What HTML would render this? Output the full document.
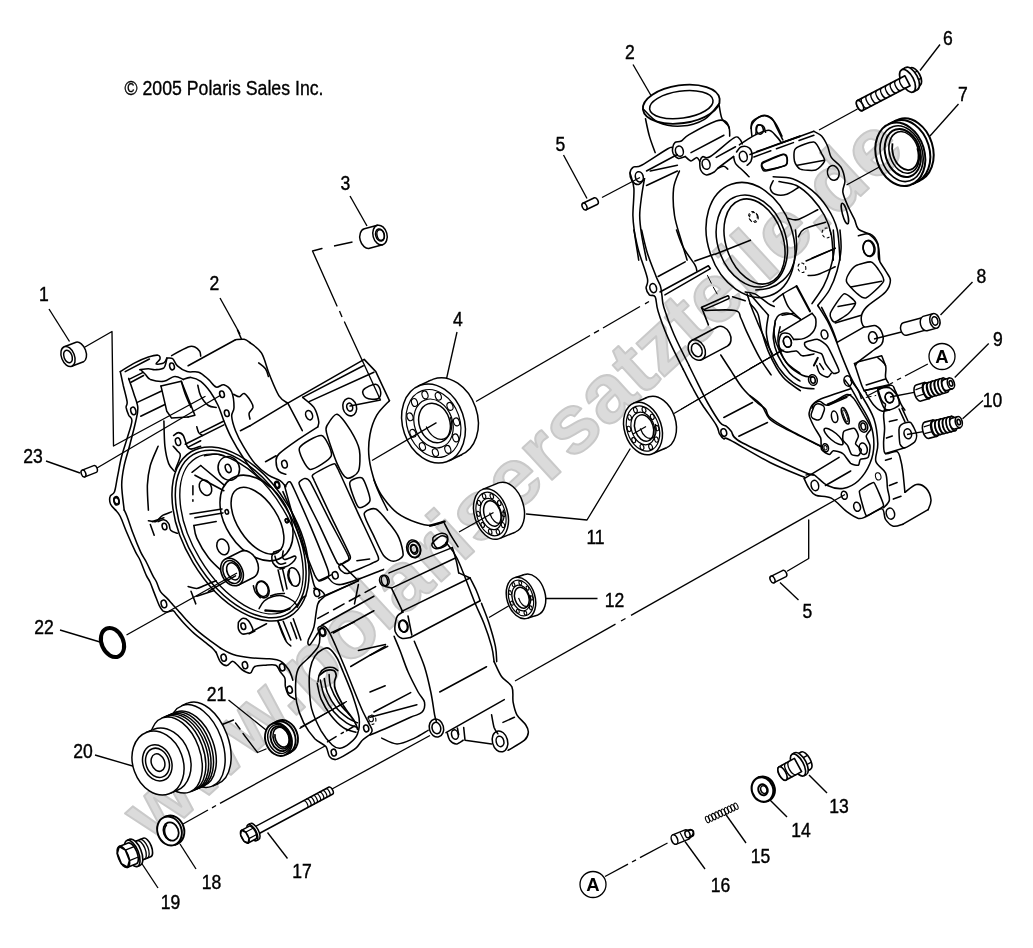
<!DOCTYPE html>
<html><head><meta charset="utf-8"><title>Crankcase</title>
<style>
html,body{margin:0;padding:0;background:#fff;}
svg{display:block;}
text{font-family:"Liberation Sans",sans-serif;fill:#000;}
</style></head><body>
<svg width="1033" height="948" viewBox="0 0 1033 948">
<rect width="1033" height="948" fill="#fff"/>

<path d="M120.3 371.6 C120.8 373.9 122.1 380.2 123.2 385.2 C124.4 390.2 126.6 397.9 127.1 401.6 C127.6 405.3 125.9 405.2 126.1 407.4 C126.4 409.7 127.7 412.9 128.7 415.2 C129.6 417.4 132.2 417.1 131.9 421 C131.7 424.9 128.9 432.3 127.1 438.4 C125.3 444.6 122.9 451.3 121.3 457.8 C119.7 464.2 118.6 471.5 117.4 477.1 C116.3 482.8 115.7 488.4 114.5 491.7 C113.3 494.9 110.7 494.4 110.1 496.5 C109.4 498.6 109.7 502 110.6 504.2 C111.6 506.5 114.7 509.1 115.5 510.1" fill="none" stroke="#000" stroke-width="1.55" stroke-linejoin="round" stroke-linecap="round" />
<path d="M115.5 510 C116.3 511.1 118.4 512.6 120.3 516.5 C122.2 520.4 124.6 527.4 127.1 533.3 C129.6 539.2 133.3 547.4 135.5 551.9 C137.7 556.4 138.2 556.1 140 560 C141.8 563.9 144.6 571.7 146.3 575.4 C148 579.1 148.6 578.9 150 582 C151.4 585.1 153 590 154.6 593.9 C156.2 597.8 157.9 602.8 159.3 605.6 C160.7 608.4 161.5 609.8 162.8 610.8 C164.2 611.8 165.7 611.9 167.4 611.9 C169.1 611.9 171.6 610.3 173.2 610.8 C174.8 611.3 174.9 612.8 176.7 614.8 C178.4 616.8 180.8 619.9 183.7 623 C186.6 626.1 190.4 630.1 194.1 633.4 C197.8 636.7 202.6 640.2 205.7 642.7 C208.8 645.2 210.9 646.9 212.7 648.5 C214.4 650.1 215.6 651.8 216.2 652.4" fill="none" stroke="#000" stroke-width="1.55" stroke-linejoin="round" stroke-linecap="round" />
<path d="M128.7 378.4 C129.5 381 132.4 389.1 133.9 393.9 C135.4 398.7 137.4 402.9 137.8 407.4 C138.1 412 137.1 414.9 135.8 421 C134.5 427.1 131.9 436.8 130 444.2 C128.1 451.7 125.6 458.8 124.2 465.5 C122.8 472.3 121.7 477.5 121.7 484.9 C121.7 492.3 123.8 505.9 124.2 510.1" fill="none" stroke="#000" stroke-width="1.55" stroke-linejoin="round" stroke-linecap="round" />
<path d="M124.2 510 C124.7 511.1 125.6 512.6 127.1 516.5 C128.6 520.4 130.8 527.4 133 533.3 C135.2 539.2 138.4 547.1 140.6 551.9 C142.8 556.7 144.3 558.1 146.3 562 C148.3 565.9 151 572.1 152.7 575.4 C154.4 578.7 155.2 579.3 156.5 582 C157.8 584.7 158.7 588.8 160.5 591.6 C162.3 594.4 165.4 596.5 167.4 598.6 C169.4 600.7 170.8 602.5 172.6 604.4 C174.3 606.3 175.7 607.7 177.9 610.2 C180.1 612.7 182.9 616.2 186 619.5 C189.1 622.8 192.8 626.6 196.5 629.9 C200.2 633.2 204.1 636.2 208.1 639.2 C212.1 642.2 218.4 646.7 220.5 648.2" fill="none" stroke="#000" stroke-width="1.55" stroke-linejoin="round" stroke-linecap="round" />
<ellipse cx="133.3" cy="410.9" rx="2.5" ry="3.9" transform="rotate(-15 133.3 410.9)" fill="none" stroke="#000" stroke-width="1.55" />
<ellipse cx="116.5" cy="501.3" rx="2.5" ry="3.7" transform="rotate(-15 116.5 501.3)" fill="none" stroke="#000" stroke-width="1.55" />
<ellipse cx="116.5" cy="500.3" rx="2.5" ry="3.7" transform="rotate(-15 116.5 500.3)" fill="none" stroke="#000" stroke-width="1.55" />
<ellipse cx="163.9" cy="603.9" rx="2.7" ry="3.9" transform="rotate(-15 163.9 603.9)" fill="none" stroke="#000" stroke-width="1.55" />
<path d="M120.3 371.6 C122.7 370.2 130.2 365.3 134.8 362.9 C139.5 360.5 144.5 358.4 148.4 357.1 C152.3 355.8 156.1 354.8 158.1 355.2 C160 355.5 160.3 357.6 160 359 C159.7 360.5 155.5 363.2 156.1 363.9 C156.8 364.5 162.1 363.9 163.9 362.9 C165.7 361.9 166.3 358.9 166.8 358.1" fill="none" stroke="#000" stroke-width="1.55" stroke-linejoin="round" stroke-linecap="round" />
<path d="M125.2 371.6 L149.4 359" fill="none" stroke="#000" stroke-width="1.55" stroke-linejoin="round" stroke-linecap="round" />
<path d="M129 379.4 L142.6 372.6" fill="none" stroke="#000" stroke-width="1.55" stroke-linejoin="round" stroke-linecap="round" />
<path d="M131 382.3 L143.6 375.5" fill="none" stroke="#000" stroke-width="1.55" stroke-linejoin="round" stroke-linecap="round" />
<path d="M140.7 369.7 C141.5 370.5 143.9 372.9 145.5 374.5 C147.1 376.1 147.3 378.2 150.3 379.4 C153.4 380.5 159.9 381.8 163.9 381.3 C167.9 380.8 171.3 376.8 174.5 376.5 C177.8 376.1 181.8 378.9 183.3 379.4" fill="none" stroke="#000" stroke-width="1.55" stroke-linejoin="round" stroke-linecap="round" />
<path d="M139.7 369.7 C141.1 369.5 145.8 368.7 148.4 368.7 C151 368.7 152.6 369.9 155.2 369.7 C157.8 369.5 162 369.5 163.9 367.8 C165.8 366 166.3 360.5 166.8 359" fill="none" stroke="#000" stroke-width="1.55" stroke-linejoin="round" stroke-linecap="round" />
<path d="M166.8 358.1 C167.8 358.2 170.8 357.4 172.6 358.7 C174.4 359.9 175 363.7 177.4 365.8 C179.9 368 183.6 370.6 187.1 371.6 C190.7 372.7 195.2 370.9 198.7 372.2 C202.3 373.5 205.5 376.9 208.4 379.4 C211.3 381.9 213.6 386.2 216.2 387.1 C218.7 388 221.3 384 223.9 384.8 C226.5 385.6 230 388.2 231.7 392 C233.3 395.7 234 403.4 234 407.4 C234 411.5 231.4 412.3 231.7 416.2 C231.9 420 233.6 425.7 235.5 430.7 C237.5 435.7 240 440.7 243.3 446.2 C246.5 451.7 250.7 458.8 254.9 463.6 C259.1 468.4 264.2 472.4 268.4 475.2 C272.6 478 277.2 478.7 280.1 480.6 C283 482.6 284.9 485.8 285.9 486.8" fill="none" stroke="#000" stroke-width="1.55" stroke-linejoin="round" stroke-linecap="round" />
<path d="M183.3 379.4 C184.5 379 188.1 377.1 191 377.4 C193.9 377.8 197.5 378.9 200.7 381.3 C203.9 383.7 207.5 387.9 210.4 392 C213.3 396 215.8 400.7 218.1 405.5 C220.4 410.3 221.7 415.5 223.9 421 C226.2 426.5 228.4 432.3 231.7 438.4 C234.9 444.6 239.4 452 243.3 457.8 C247.1 463.6 250.4 468.4 254.9 473.3 C259.4 478.2 267.8 484.9 270.4 487.2" fill="none" stroke="#000" stroke-width="1.55" stroke-linejoin="round" stroke-linecap="round" />
<ellipse cx="172" cy="366.4" rx="2.3" ry="3.5" transform="rotate(-15 172 366.4)" fill="none" stroke="#000" stroke-width="1.55" />
<ellipse cx="222" cy="394.3" rx="2.3" ry="3.3" transform="rotate(-15 222 394.3)" fill="none" stroke="#000" stroke-width="1.55" />
<ellipse cx="226.8" cy="413.3" rx="2.3" ry="3.3" transform="rotate(-15 226.8 413.3)" fill="none" stroke="#000" stroke-width="1.55" />
<ellipse cx="277.2" cy="484.9" rx="2.5" ry="3.7" transform="rotate(-15 277.2 484.9)" fill="none" stroke="#000" stroke-width="1.55" />
<path d="M171.6 355.6 C174.4 354.1 184.2 348.5 188.1 347 C192 345.6 192.9 346.3 194.9 347 C196.8 347.7 198.7 349.8 199.7 351.3 C200.7 352.8 200.5 355.3 200.7 356.1" fill="none" stroke="#000" stroke-width="1.55" stroke-linejoin="round" stroke-linecap="round" />
<path d="M188.1 365.8 L235.5 339.7" fill="none" stroke="#000" stroke-width="1.55" stroke-linejoin="round" stroke-linecap="round" />
<path d="M235.5 339.7 C237 339.6 241.8 338.8 244.2 339.3 C246.7 339.8 249.1 342 250 342.6" fill="none" stroke="#000" stroke-width="1.55" stroke-linejoin="round" stroke-linecap="round" />
<path d="M240.4 430.7 L250 425.8" fill="none" stroke="#000" stroke-width="1.55" stroke-linejoin="round" stroke-linecap="round" />
<path d="M237.5 330 L241.3 338.7" fill="none" stroke="#000" stroke-width="1.55" stroke-linejoin="round" stroke-linecap="round" />
<path d="M161 386.1 L181.3 381.3 L194.9 415.2 L188.1 417.1" fill="none" stroke="#000" stroke-width="1.55" stroke-linejoin="round" stroke-linecap="round" />
<path d="M161 386.1 L166.8 411.3 L171.6 418.1 L188.1 417.1" fill="none" stroke="#000" stroke-width="1.55" stroke-linejoin="round" stroke-linecap="round" />
<path d="M136.8 402.6 L161.6 391" fill="none" stroke="#000" stroke-width="1.55" stroke-linejoin="round" stroke-linecap="round" />
<path d="M140.7 416.2 L164.9 404.5" fill="none" stroke="#000" stroke-width="1.55" stroke-linejoin="round" stroke-linecap="round" />
<path d="M163.9 421 C164.1 425.2 164.1 439.1 164.9 446.2 C165.7 453.3 167.1 459.4 168.7 463.6 C170.3 467.8 173.6 470 174.5 471.3" fill="none" stroke="#000" stroke-width="1.55" stroke-linejoin="round" stroke-linecap="round" />
<path d="M158.1 446.2 C156.8 449.4 152.1 459.1 150.3 465.5 C148.6 472 147.8 477.5 147.4 484.9 C147.1 492.3 148.2 505.9 148.4 510.1" fill="none" stroke="#000" stroke-width="1.55" stroke-linejoin="round" stroke-linecap="round" />
<path d="M197.8 385.2 C198.3 387 198.9 392.4 200.7 395.8 C202.5 399.2 205.8 403.6 208.4 405.5 C211 407.4 214.9 407.1 216.2 407.4" fill="none" stroke="#000" stroke-width="1.55" stroke-linejoin="round" stroke-linecap="round" />
<path d="M181.3 381.3 C182 383.4 183.6 389.5 185.2 393.9 C186.8 398.2 190 405.2 191 407.4" fill="none" stroke="#000" stroke-width="1.55" stroke-linejoin="round" stroke-linecap="round" />
<ellipse cx="178" cy="441.7" rx="2.5" ry="3.9" transform="rotate(-15 178 441.7)" fill="none" stroke="#000" stroke-width="1.55" />
<path d="M173.6 435.5 C174.4 435 176.8 432.6 178.4 432.6 C180 432.6 181.8 433.3 183.3 435.5 C184.7 437.8 185.8 443.9 187.1 446.2 C188.4 448.4 188.7 449.1 191 449.1 C193.3 449.1 199.1 446.7 200.7 446.2" fill="none" stroke="#000" stroke-width="1.55" stroke-linejoin="round" stroke-linecap="round" />
<path d="M173.2 446.2 C173.9 447 176.3 449.4 177.4 451 C178.6 452.6 180.7 452.8 180.3 455.8 C180 458.9 176.3 467.1 175.5 469.4" fill="none" stroke="#000" stroke-width="1.55" stroke-linejoin="round" stroke-linecap="round" />
<path d="M185.2 444.2 L223.9 424.9" fill="none" stroke="#000" stroke-width="1.55" stroke-linejoin="round" stroke-linecap="round" />
<path d="M188.1 447.1 L200.7 440.7" fill="none" stroke="#000" stroke-width="1.55" stroke-linejoin="round" stroke-linecap="round" />
<path d="M200.7 432.6 L223.9 421" fill="none" stroke="#000" stroke-width="1.55" stroke-linejoin="round" stroke-linecap="round" />
<path d="M196.8 426.8 C197.1 427.8 197.8 431.2 198.7 432.6 C199.7 434.1 202 435 202.6 435.5" fill="none" stroke="#000" stroke-width="1.55" stroke-linejoin="round" stroke-linecap="round" />
<path d="M233.6 394.3 C234.6 394.7 237.6 396.9 239.4 396.8 C241.2 396.7 242.3 392.7 244.2 393.5 C246.2 394.3 249.6 399.3 251 401.6 C252.5 404 253.3 405.5 253 407.4 C252.6 409.4 249.6 411.3 249.1 413.3 C248.6 415.2 249.9 418.1 250 419.1" fill="none" stroke="#000" stroke-width="1.55" stroke-linejoin="round" stroke-linecap="round" />
<ellipse cx="240.5" cy="534" rx="55.4" ry="96" transform="rotate(-31 240.5 534)" fill="none" stroke="#000" stroke-width="1.55" />
<ellipse cx="240.7" cy="534" rx="52.2" ry="92.6" transform="rotate(-31 240.7 534)" fill="none" stroke="#000" stroke-width="1.55" />
<ellipse cx="241.5" cy="534" rx="48.5" ry="88.5" transform="rotate(-31 241.5 534)" fill="none" stroke="#000" stroke-width="1.395" />
<ellipse cx="228.8" cy="468.4" rx="10.6" ry="12" transform="rotate(-20 228.8 468.4)" fill="none" stroke="#000" stroke-width="1.55" />
<ellipse cx="228.2" cy="468.4" rx="2.7" ry="4.3" transform="rotate(-20 228.2 468.4)" fill="none" stroke="#000" stroke-width="1.55" />
<path d="M204.5 455.8 C206.5 455.5 212.9 453.9 216.2 453.9 C219.4 453.9 222.6 455.5 223.9 455.8" fill="none" stroke="#000" stroke-width="1.55" stroke-linejoin="round" stroke-linecap="round" />
<ellipse cx="257.5" cy="520.7" rx="19.9" ry="37.6" transform="rotate(-33 257.5 520.7)" fill="none" stroke="#000" stroke-width="1.55" />
<ellipse cx="256.5" cy="518" rx="31.2" ry="46.8" transform="rotate(-33 256.5 518)" fill="none" stroke="#000" stroke-width="1.55" />
<ellipse cx="205.5" cy="487.7" rx="5.8" ry="8.1" transform="rotate(-25 205.5 487.7)" fill="none" stroke="#000" stroke-width="1.55" />
<ellipse cx="222.9" cy="546.8" rx="5.8" ry="8.1" transform="rotate(-20 222.9 546.8)" fill="none" stroke="#000" stroke-width="1.55" />
<ellipse cx="262.6" cy="589.4" rx="6.2" ry="8.7" transform="rotate(-20 262.6 589.4)" fill="none" stroke="#000" stroke-width="1.55" />
<ellipse cx="226.8" cy="511.9" rx="1.7" ry="2.3" transform="rotate(-15 226.8 511.9)" fill="none" stroke="#000" stroke-width="1.55" />
<ellipse cx="286.8" cy="520.7" rx="1.5" ry="2.1" transform="rotate(-15 286.8 520.7)" fill="none" stroke="#000" stroke-width="1.55" />
<ellipse cx="277.2" cy="484.8" rx="1.9" ry="2.7" transform="rotate(-15 277.2 484.8)" fill="none" stroke="#000" stroke-width="1.55" />
<path d="M190 513.9 L222 509" fill="none" stroke="#000" stroke-width="1.55" stroke-linejoin="round" stroke-linecap="round" />
<path d="M194.9 517.8 L222.9 512.9" fill="none" stroke="#000" stroke-width="1.55" stroke-linejoin="round" stroke-linecap="round" />
<path d="M193.9 525.5 L216.2 521.6" fill="none" stroke="#000" stroke-width="1.55" stroke-linejoin="round" stroke-linecap="round" />
<path d="M193.9 525.5 C194.4 527.6 194.4 532.8 196.8 538.1 C199.2 543.4 203.9 551.6 208.4 557.4 C212.9 563.3 221.3 570.4 223.9 572.9" fill="none" stroke="#000" stroke-width="1.55" stroke-linejoin="round" stroke-linecap="round" />
<path d="M192 472.3 L200.7 465.5" fill="none" stroke="#000" stroke-width="1.55" stroke-linejoin="round" stroke-linecap="round" />
<path d="M194.9 475.2 L223.9 490.7" fill="none" stroke="#000" stroke-width="1.55" stroke-linejoin="round" stroke-linecap="round" />
<path d="M200.7 465.5 L223.9 484.9" fill="none" stroke="#000" stroke-width="1.55" stroke-linejoin="round" stroke-linecap="round" />
<path d="M192.9 485.8 L192.9 501.3" fill="none" stroke="#000" stroke-width="1.55" stroke-linejoin="round" stroke-linecap="round" stroke-dasharray="9 5" />
<path d="M238.5 585 L253.5 577.5 A10.5 14.5 -26.6 0 0 240.5 551.5 L225.5 559 Z" fill="#fff" stroke="#000" stroke-width="1.55" stroke-linejoin="round" stroke-linecap="round" />
<ellipse cx="232" cy="572" rx="10.5" ry="14.5" transform="rotate(-26.6 232 572)" fill="#fff" stroke="#000" stroke-width="1.55" />
<ellipse cx="232" cy="572" rx="8.5" ry="12" transform="rotate(-25 232 572)" fill="none" stroke="#000" stroke-width="1.55" />
<ellipse cx="233.2" cy="571.4" rx="6" ry="9" transform="rotate(-25 233.2 571.4)" fill="none" stroke="#000" stroke-width="1.55" />
<path d="M235.5 575.8 L208.4 591.3" fill="none" stroke="#000" stroke-width="1.55" stroke-linejoin="round" stroke-linecap="round" />
<path d="M273.7 552.3 C273.4 553 271.9 554.9 271.8 556.7 C271.7 558.5 272 561.2 273 563 C274.1 564.8 276 566.8 278.1 567.5 C280.2 568.1 283.4 567.6 285.7 566.8 C288 566.1 290.3 564.5 292 563 C293.7 561.6 295.4 559.1 295.8 558 C296.2 556.8 295.6 556.1 294.6 556.1 C293.5 556.1 291.2 557.4 289.5 558 C287.8 558.5 285.6 559.7 284.4 559.5 C283.3 559.3 282.7 558.1 282.5 556.7 C282.3 555.3 283.1 552 283.2 551" fill="none" stroke="#000" stroke-width="1.55" stroke-linejoin="round" stroke-linecap="round" />
<path d="M274.9 556.1 C275.3 557 275.9 560.4 276.8 561.8 C277.8 563.1 279.2 564.1 280.6 564.3 C282.1 564.5 284.9 563.2 285.7 563" fill="none" stroke="#000" stroke-width="1.55" stroke-linejoin="round" stroke-linecap="round" />
<path d="M273.7 552.3 L281.3 549.4" fill="none" stroke="#000" stroke-width="1.55" stroke-linejoin="round" stroke-linecap="round" />
<path d="M278.1 570 C278.5 571.8 279.8 577.3 280.6 580.8 C281.5 584.2 282.7 589.2 283.2 590.9" fill="none" stroke="#000" stroke-width="1.55" stroke-linejoin="round" stroke-linecap="round" />
<path d="M282.5 568.7 C282.9 570.3 283.9 574.9 284.7 578.2 C285.4 581.6 286.6 587.2 287 589" fill="none" stroke="#000" stroke-width="1.55" stroke-linejoin="round" stroke-linecap="round" />
<path d="M280 569.1 L284.4 568.1" fill="none" stroke="#000" stroke-width="1.55" stroke-linejoin="round" stroke-linecap="round" />
<ellipse cx="293.9" cy="577" rx="5.7" ry="9.5" transform="rotate(-15 293.9 577)" fill="none" stroke="#000" stroke-width="1.55" />
<path d="M289.5 570.6 C289.4 571.7 288.4 574.6 288.9 577 C289.3 579.3 291.5 583.3 292 584.6" fill="none" stroke="#000" stroke-width="1.55" stroke-linejoin="round" stroke-linecap="round" />
<ellipse cx="262.3" cy="589" rx="5.7" ry="7.6" transform="rotate(-20 262.3 589)" fill="none" stroke="#000" stroke-width="1.55" />
<path d="M253.4 585.8 C253.7 586.9 254.2 590.1 255.3 592.2 C256.5 594.2 259.5 596.9 260.4 597.8" fill="none" stroke="#000" stroke-width="1.55" stroke-linejoin="round" stroke-linecap="round" />
<path d="M259.1 608.6 C260 607.3 261.9 603 264.2 601 C266.5 599 269.9 597.4 273 596.6 C276.2 595.7 279.8 595.2 283.2 595.9 C286.5 596.7 291 599.3 293.3 601 C295.6 602.7 296.5 605.2 297.1 606.1" fill="none" stroke="#000" stroke-width="1.55" stroke-linejoin="round" stroke-linecap="round" />
<path d="M265.4 610.5 C268 610.7 276.6 611.7 280.6 611.4 C284.6 611.1 288 609.1 289.5 608.6" fill="none" stroke="#000" stroke-width="2.325" stroke-linejoin="round" stroke-linecap="round" />
<path d="M270.5 595.9 C271.6 595.6 274.5 594.5 276.8 594.1 C279.2 593.6 283.2 593.5 284.4 593.4" fill="none" stroke="#000" stroke-width="1.55" stroke-linejoin="round" stroke-linecap="round" />
<path d="M278.1 621.3 L285.7 640" fill="none" stroke="#000" stroke-width="1.55" stroke-linejoin="round" stroke-linecap="round" />
<path d="M283.2 621.3 L290.8 640" fill="none" stroke="#000" stroke-width="1.55" stroke-linejoin="round" stroke-linecap="round" />
<path d="M293.3 618.7 L300.9 640" fill="none" stroke="#000" stroke-width="1.55" stroke-linejoin="round" stroke-linecap="round" />
<path d="M297.1 607.3 C297.9 605.9 300.7 600.4 302.2 598.5 C303.6 596.6 305.3 596.4 305.9 595.9" fill="none" stroke="#000" stroke-width="1.55" stroke-linejoin="round" stroke-linecap="round" />
<ellipse cx="243.3" cy="626.2" rx="2.3" ry="3.3" transform="rotate(-15 243.3 626.2)" fill="none" stroke="#000" stroke-width="1.55" />
<path d="M238.4 622.3 C239.1 621.7 240.7 618.8 242.3 618.4 C243.9 618.1 246.3 618.4 248.1 620.4 C249.9 622.3 252.8 628 253 630 C253.1 632.1 250.9 632.3 249.1 633 C247.3 633.6 244.1 634.6 242.3 633.9 C240.5 633.3 239.1 631 238.4 629.1 C237.8 627.1 238.4 623.4 238.4 622.3" fill="none" stroke="#000" stroke-width="1.55" stroke-linejoin="round" stroke-linecap="round" />
<path d="M253 631 L266.5 623.7" fill="none" stroke="#000" stroke-width="1.55" stroke-linejoin="round" stroke-linecap="round" />
<path d="M249.1 633.9 L254.9 631" fill="none" stroke="#000" stroke-width="1.55" stroke-linejoin="round" stroke-linecap="round" />
<ellipse cx="164.5" cy="526.5" rx="2.3" ry="3.3" transform="rotate(-15 164.5 526.5)" fill="none" stroke="#000" stroke-width="1.55" />
<path d="M158.1 521.6 C159.1 521.3 162.1 519.4 163.9 519.7 C165.7 520 167.6 521.8 168.7 523.6 C169.9 525.3 169.2 528.7 170.7 530.3 C172.1 532 176.3 532.8 177.4 533.2" fill="none" stroke="#000" stroke-width="1.55" stroke-linejoin="round" stroke-linecap="round" />
<path d="M148.4 520.7 C149.7 520.8 153.9 522.4 156.1 521.6 C158.4 520.8 159.4 517.4 162 515.8 C164.5 514.2 170 512.6 171.6 511.9" fill="none" stroke="#000" stroke-width="1.55" stroke-linejoin="round" stroke-linecap="round" />
<path d="M150.3 524.5 L154.2 535.2" fill="none" stroke="#000" stroke-width="1.55" stroke-linejoin="round" stroke-linecap="round" />
<path d="M152.3 521.6 L163.9 517.8" fill="none" stroke="#000" stroke-width="1.55" stroke-linejoin="round" stroke-linecap="round" />
<path d="M188.1 586.5 C189.5 586.8 194.1 588.6 196.8 588.4 C199.5 588.3 201.3 586.8 204.5 585.5 C207.8 584.2 214.2 581.5 216.2 580.7" fill="none" stroke="#000" stroke-width="1.55" stroke-linejoin="round" stroke-linecap="round" />
<path d="M191 591.3 L195.8 603.9" fill="none" stroke="#000" stroke-width="1.55" stroke-linejoin="round" stroke-linecap="round" />
<path d="M196.8 596.2 L214.2 590.4" fill="none" stroke="#000" stroke-width="1.55" stroke-linejoin="round" stroke-linecap="round" />
<path d="M250 425.8 L287.8 403.2 L364.2 359.4 L375.8 371.6 L389.4 400.7" fill="none" stroke="#000" stroke-width="1.55" stroke-linejoin="round" stroke-linecap="round" />
<path d="M302.7 397.4 L363.3 365.8" fill="none" stroke="#000" stroke-width="1.55" stroke-linejoin="round" stroke-linecap="round" />
<path d="M309.1 401.6 L373.9 372.2" fill="none" stroke="#000" stroke-width="1.55" stroke-linejoin="round" stroke-linecap="round" />
<path d="M389.4 400.7 C387.3 403.1 380 409.5 376.8 415.2 C373.6 420.8 371.3 427.5 370 434.5 C368.7 441.6 368.1 449.4 369.1 457.8 C370 466.2 372.8 476.2 375.8 484.9 C378.9 493.6 385.5 505.9 387.5 510.1" fill="none" stroke="#000" stroke-width="1.55" stroke-linejoin="round" stroke-linecap="round" />
<path d="M373.9 480 C375.2 482.6 377.8 490 381.7 495.5 C385.5 501 391.3 508.4 397.1 512.9 C403 517.4 410.7 520.5 416.5 522.6 C422.3 524.7 427.5 525.7 432 525.5 C436.5 525.3 441.7 522.3 443.6 521.6" fill="none" stroke="#000" stroke-width="1.55" stroke-linejoin="round" stroke-linecap="round" />
<path d="M430.1 525.7 L444.6 521.6" fill="none" stroke="#000" stroke-width="2.4" stroke-linejoin="round" stroke-linecap="round" />
<ellipse cx="349.7" cy="407.1" rx="6.8" ry="8.9" transform="rotate(-15 349.7 407.1)" fill="none" stroke="#000" stroke-width="1.55" />
<ellipse cx="349.7" cy="407.1" rx="2.9" ry="4.1" transform="rotate(-15 349.7 407.1)" fill="none" stroke="#000" stroke-width="1.55" />
<path d="M363.3 390 C364.9 387.8 372.9 383.9 375.8 384.2 C378.8 384.5 380.4 389.5 380.7 392 C381 394.4 380.2 397.8 377.8 398.7 C375.4 399.7 368.6 399.2 366.2 397.8 C363.7 396.3 361.6 392.3 363.3 390 Z" fill="none" stroke="#000" stroke-width="1.55" stroke-linejoin="round" stroke-linecap="round" />
<path d="M287.8 403.2 L302.3 430.7" fill="none" stroke="#000" stroke-width="1.55" stroke-linejoin="round" stroke-linecap="round" />
<ellipse cx="309.1" cy="415.2" rx="3.3" ry="4.8" transform="rotate(-20 309.1 415.2)" fill="none" stroke="#000" stroke-width="1.55" />
<path d="M302.7 397.4 C304.5 399.1 311.2 403.5 313.9 407.4 C316.6 411.4 318.1 417.8 318.7 421 C319.4 424.2 317.9 425.8 317.8 426.8" fill="none" stroke="#000" stroke-width="1.55" stroke-linejoin="round" stroke-linecap="round" />
<path d="M317.8 426.8 C314.5 428.9 304.9 434.9 298.4 439.4 C291.9 443.9 282.8 450.2 279 453.9 C275.3 457.6 276.1 458.8 276.1 461.7 C276.1 464.6 277.4 469.2 279 471.3 C280.7 473.4 284.7 473.8 285.8 474.2" fill="none" stroke="#000" stroke-width="1.55" stroke-linejoin="round" stroke-linecap="round" />
<ellipse cx="284.5" cy="464.2" rx="2.7" ry="3.9" transform="rotate(-15 284.5 464.2)" fill="none" stroke="#000" stroke-width="1.55" />
<path d="M265.5 461.7 L276.1 455.8" fill="none" stroke="#000" stroke-width="1.55" stroke-linejoin="round" stroke-linecap="round" />
<path d="M250 342.6 C251.9 344.4 258.4 347.9 261.6 353.2 C264.8 358.6 266.5 367.4 269.4 374.5 C272.3 381.6 276 391.1 279 395.8 C282.1 400.6 286.3 402 287.8 403.2" fill="none" stroke="#000" stroke-width="1.55" stroke-linejoin="round" stroke-linecap="round" />
<path d="M258.7 362.9 C259.8 363.9 263.9 366.5 265.5 368.7 C267.1 371 267.9 375.2 268.4 376.5" fill="none" stroke="#000" stroke-width="1.55" stroke-linejoin="round" stroke-linecap="round" />
<path d="M299.4 448.1 C300.7 444.1 317.9 434.6 321.6 435.5 C325.4 436.4 332.7 451.9 331.3 455.8 C330 459.8 313.7 470.3 310 469.4 C306.3 468.5 298 452.1 299.4 448.1 Z" fill="none" stroke="#000" stroke-width="1.55" stroke-linejoin="round" stroke-linecap="round" />
<path d="M327.4 424.9 C328.9 422.4 334 413.4 337.1 414.2 C340.2 415 347.7 425.9 350.7 430.7 C353.6 435.5 358.4 444.6 359.4 450 C360.4 455.5 360.1 467.6 358.4 471.3 C356.7 475.1 349.6 479.1 346.8 478.1 C344 477.1 339.8 469.7 337.1 463.6 C334.4 457.5 327.8 437.8 326.5 432.6 C325.2 427.5 326 427.3 327.4 424.9 Z" fill="none" stroke="#000" stroke-width="1.55" stroke-linejoin="round" stroke-linecap="round" />
<path d="M349.7 483 C350.2 479.6 359.9 476.1 362.3 478.1 C364.7 480.1 370.5 497 370 500.4 C369.6 503.8 360.8 509.2 358.4 507.2 C356.1 505.1 349.3 486.3 349.7 483 Z" fill="none" stroke="#000" stroke-width="1.55" stroke-linejoin="round" stroke-linecap="round" />
<path d="M364.2 513.9 C364.5 510.3 372.5 507.8 375.8 509 C379.2 510.3 386.3 519.7 389.4 523.6 C392.5 527.4 397.3 533.8 399.1 538.1 C400.9 542.3 403.7 552.4 403 555.5 C402.2 558.6 395.9 561.3 393.3 561.3 C390.7 561.3 386.2 558.9 383.6 555.5 C381 552.2 376.5 541.7 373.9 536.1 C371.3 530.6 364 517.5 364.2 513.9 Z" fill="none" stroke="#000" stroke-width="1.55" stroke-linejoin="round" stroke-linecap="round" />
<path d="M286 485.2 C286.6 484.7 288.7 479.1 291.1 483.1 C293.5 487 306 515.9 309.7 524.4 C313.3 532.9 325.5 563.1 327.4 568.3 C329.3 573.5 329 575.5 328.2 576.8 C327.5 578 321.2 581.1 319.8 581 C318.5 580.8 316.9 579.7 314.7 575.1 C312.6 570.4 301.7 543.2 298.7 534.5 C295.7 525.9 286.5 493 285.2 488.1 C283.9 483.2 285.4 485.8 286 485.2 Z" fill="none" stroke="#000" stroke-width="1.55" stroke-linejoin="round" stroke-linecap="round" />
<path d="M299.5 481.9 C300 481.1 303.5 478.5 304.6 478.5 C305.7 478.5 307.7 477.8 310.2 481.9 C312.6 486 325.3 511.9 329.1 519.4 C332.9 526.8 346.9 552.3 348.5 556.5 C350.1 560.7 346.2 560.9 345.1 561.6 C344 562.2 340.2 567 337.5 563.2 C334.9 559.5 322.7 532.1 319 524.4 C315.2 516.7 302 490.7 300.1 486.4 C298.1 482.2 299.1 482.7 299.5 481.9 Z" fill="none" stroke="#000" stroke-width="1.55" stroke-linejoin="round" stroke-linecap="round" />
<path d="M313.1 474.6 C315 473 330.8 464.5 333.3 464 C335.8 463.4 335.4 464.2 337.9 469 C340.3 473.9 353.8 503.9 357.8 512.6 C361.8 521.3 376.4 551.5 378.1 556.5 C379.7 561.5 376.9 560.7 373.8 562.4 C370.8 564.1 351 572.6 347.7 573.4 C344.4 574.2 341.8 571.1 340.9 570.3 C340 569.6 338.4 566.6 338.9 565.8 C339.4 564.9 344.8 562.9 346 561.9 C347.1 560.9 351.5 560.4 350.2 556.2 C348.8 551.9 336.1 526.9 332.5 519.4 C328.9 511.8 316.2 485 314.2 480.5 C312.3 476 311.1 476.3 313.1 474.6 Z" fill="none" stroke="#000" stroke-width="1.55" stroke-linejoin="round" stroke-linecap="round" />
<path d="M356.9 560.7 L369.6 559" fill="none" stroke="#000" stroke-width="1.55" stroke-linejoin="round" stroke-linecap="round" />
<ellipse cx="413.6" cy="548.7" rx="6.8" ry="8.9" transform="rotate(-15 413.6 548.7)" fill="none" stroke="#000" stroke-width="1.55" />
<ellipse cx="413.6" cy="548.7" rx="3.1" ry="4.3" transform="rotate(-15 413.6 548.7)" fill="none" stroke="#000" stroke-width="1.55" />
<path d="M432 543.9 C432.8 541.8 438.1 537.1 440.7 536.1 C443.3 535.2 446.7 536.5 447.5 538.1 C448.3 539.7 447.5 544.1 445.5 545.8 C443.6 547.6 438.1 549.1 435.9 548.7 C433.6 548.4 431.2 546 432 543.9 Z" fill="none" stroke="#000" stroke-width="1.55" stroke-linejoin="round" stroke-linecap="round" />
<ellipse cx="335.2" cy="575.3" rx="2.9" ry="3.7" transform="rotate(-15 335.2 575.3)" fill="none" stroke="#000" stroke-width="1.55" />
<ellipse cx="316.8" cy="592.7" rx="2.7" ry="3.9" transform="rotate(-15 316.8 592.7)" fill="none" stroke="#000" stroke-width="1.55" />
<ellipse cx="286.8" cy="520.7" rx="1.4" ry="1.9" transform="rotate(-15 286.8 520.7)" fill="none" stroke="#000" stroke-width="1.55" />
<ellipse cx="383.6" cy="580.7" rx="3.9" ry="5.4" transform="rotate(-15 383.6 580.7)" fill="none" stroke="#000" stroke-width="1.55" />
<ellipse cx="403" cy="626.2" rx="4.3" ry="5.8" transform="rotate(-15 403 626.2)" fill="none" stroke="#000" stroke-width="1.55" />
<ellipse cx="322.6" cy="632" rx="3.3" ry="4.5" transform="rotate(-15 322.6 632)" fill="none" stroke="#000" stroke-width="1.55" />
<path d="M282.9 491.6 C285.5 497.7 294.2 516.8 298.4 528.4 C302.6 540 305.5 552 308.1 561.3 C310.7 570.7 312.4 580 313.9 584.5 C315.3 589.1 316.3 587.8 316.8 588.4" fill="none" stroke="#000" stroke-width="1.55" stroke-linejoin="round" stroke-linecap="round" />
<path d="M313.9 588.4 C315 588.7 318.9 589.1 320.7 590.4 C322.4 591.6 325 593.9 324.5 596.2 C324.1 598.4 319.5 598.7 317.8 603.9 C316 609.1 315.5 621 313.9 627.1 C312.3 633.3 308.7 637.8 308.1 640.7 C307.4 643.6 308.4 645.9 310 644.6 C311.6 643.3 316.5 634.9 317.8 633" fill="none" stroke="#000" stroke-width="1.55" stroke-linejoin="round" stroke-linecap="round" />
<path d="M324.5 596.2 L358.4 580.7" fill="none" stroke="#000" stroke-width="1.55" stroke-linejoin="round" stroke-linecap="round" />
<path d="M318.7 580.7 L331.3 574.9" fill="none" stroke="#000" stroke-width="1.55" stroke-linejoin="round" stroke-linecap="round" />
<path d="M341 563.6 L358.4 580.7" fill="none" stroke="#000" stroke-width="1.55" stroke-linejoin="round" stroke-linecap="round" />
<path d="M327.4 576.8 C329.7 578.1 331.6 585.8 341 584.5 C350.4 583.3 376.5 572 383.6 569.4" fill="none" stroke="#000" stroke-width="1.55" stroke-linejoin="round" stroke-linecap="round" />
<path d="M318.7 598.1 L354.5 582.6" fill="none" stroke="#000" stroke-width="1.55" stroke-linejoin="round" stroke-linecap="round" />
<path d="M317.8 618.4 L375.8 586.5" fill="none" stroke="#000" stroke-width="1.55" stroke-linejoin="round" stroke-linecap="round" stroke-dasharray="12 6" />
<path d="M354.5 603.9 L358.4 584.5" fill="none" stroke="#000" stroke-width="1.55" stroke-linejoin="round" stroke-linecap="round" />
<path d="M321.6 625.2 L373.9 596.2" fill="none" stroke="#000" stroke-width="1.55" stroke-linejoin="round" stroke-linecap="round" />
<path d="M333.3 633 L373.9 610.7" fill="none" stroke="#000" stroke-width="1.55" stroke-linejoin="round" stroke-linecap="round" />
<path d="M358.4 650.4 L385.5 644.6" fill="none" stroke="#000" stroke-width="1.55" stroke-linejoin="round" stroke-linecap="round" />
<path d="M444.5 523.6 C445.7 525.7 449 532.3 451.3 536.1 C453.6 540 457 545 458.1 546.8" fill="none" stroke="#000" stroke-width="1.55" stroke-linejoin="round" stroke-linecap="round" />
<ellipse cx="414.3" cy="549.6" rx="6.3" ry="8.1" transform="rotate(-15 414.3 549.6)" fill="none" stroke="#000" stroke-width="1.55" />
<ellipse cx="414.3" cy="549.6" rx="3.3" ry="4.6" transform="rotate(-15 414.3 549.6)" fill="none" stroke="#000" stroke-width="1.55" />
<path d="M432.9 538.1 C433.7 535.7 439.2 533.6 441.6 533.2 C444 532.9 446.8 534.4 447.4 536.1 C448.1 537.9 447.3 542 445.5 543.9 C443.7 545.8 438.9 548.7 436.8 547.8 C434.7 546.8 432.1 540.5 432.9 538.1 Z" fill="none" stroke="#000" stroke-width="1.55" stroke-linejoin="round" stroke-linecap="round" />
<ellipse cx="385.2" cy="580.5" rx="3.8" ry="5.3" transform="rotate(-15 385.2 580.5)" fill="none" stroke="#000" stroke-width="1.55" />
<path d="M389 572.9 L452.3 547.6" fill="none" stroke="#000" stroke-width="1.55" stroke-linejoin="round" stroke-linecap="round" />
<path d="M391.5 588.1 L454.9 558.2" fill="none" stroke="#000" stroke-width="1.55" stroke-linejoin="round" stroke-linecap="round" />
<path d="M452.3 547.6 C453 549.7 455.1 556 456.1 560.3 C457.2 564.5 458.3 570.8 458.7 572.9" fill="none" stroke="#000" stroke-width="1.55" stroke-linejoin="round" stroke-linecap="round" />
<path d="M385.2 586.4 L391.5 588.1 L402.9 612.2" fill="none" stroke="#000" stroke-width="1.55" stroke-linejoin="round" stroke-linecap="round" />
<path d="M401.7 611.4 L470.1 578" fill="none" stroke="#000" stroke-width="1.55" stroke-linejoin="round" stroke-linecap="round" />
<path d="M410.5 637.5 L480.2 600.8" fill="none" stroke="#000" stroke-width="1.55" stroke-linejoin="round" stroke-linecap="round" />
<path d="M470.1 578 C471.1 580.1 474.7 586.9 476.4 590.7 C478.1 594.5 479.6 599.1 480.2 600.8" fill="none" stroke="#000" stroke-width="1.55" stroke-linejoin="round" stroke-linecap="round" />
<path d="M458.7 572.9 L470.1 578" fill="none" stroke="#000" stroke-width="1.55" stroke-linejoin="round" stroke-linecap="round" />
<ellipse cx="403.7" cy="626.1" rx="4.3" ry="6.1" transform="rotate(-15 403.7 626.1)" fill="none" stroke="#000" stroke-width="1.55" />
<path d="M410.5 637.5 C409.1 637.7 404.2 639.3 401.7 638.3 C399.1 637.3 396.4 634.2 395.3 631.7 C394.3 629.2 395 625.7 395.3 623.1 C395.7 620.5 396.1 617.9 397.4 616 C398.6 614.1 402 612.6 402.9 612" fill="none" stroke="#000" stroke-width="1.55" stroke-linejoin="round" stroke-linecap="round" />
<path d="M408 616 L411.8 635" fill="none" stroke="#000" stroke-width="1.55" stroke-linejoin="round" stroke-linecap="round" />
<path d="M446 542.5 C447.9 545.3 452.6 548.9 457.4 559 C462.3 569.1 470.7 592.6 475.1 603.3 C479.6 614.1 481.3 616.4 484 623.6 C486.8 630.8 489.9 640.1 491.6 646.4 C493.3 652.7 493.7 659.1 494.1 661.6" fill="none" stroke="#000" stroke-width="1.55" stroke-linejoin="round" stroke-linecap="round" />
<path d="M481.5 603.3 C482.7 606.7 486.8 616.4 489.1 623.6 C491.4 630.8 494.1 640.1 495.4 646.4 C496.7 652.7 496.5 659.1 496.7 661.6" fill="none" stroke="#000" stroke-width="1.55" stroke-linejoin="round" stroke-linecap="round" />
<path d="M414.3 641.3 C416 645.6 421.7 658.2 424.5 666.7 C427.2 675.1 429.1 684 430.8 692 C432.5 700 433.7 710 434.6 714.8 C435.5 719.7 436.1 720.1 436.4 721.2" fill="none" stroke="#000" stroke-width="1.55" stroke-linejoin="round" stroke-linecap="round" />
<path d="M494.1 661.6 C495.4 664.1 498.8 672.6 501.7 676.8 C504.7 681 510 682.7 511.9 686.9 C513.8 691.2 512.3 697.5 513.1 702.1 C514 706.8 514.8 711 516.9 714.8 C519.1 718.6 523.9 722 525.8 725 C527.7 727.9 528.6 730 528.3 732.6 C528.1 735.1 527.9 737.2 524.5 740.2 C521.2 743.1 510.8 748.6 508.1 750.3" fill="none" stroke="#000" stroke-width="1.55" stroke-linejoin="round" stroke-linecap="round" />
<path d="M439.7 692 L486.5 666.7" fill="none" stroke="#000" stroke-width="1.55" stroke-linejoin="round" stroke-linecap="round" />
<path d="M446 732.6 L504.3 699.6" fill="none" stroke="#000" stroke-width="1.55" stroke-linejoin="round" stroke-linecap="round" />
<path d="M491.6 714.8 C492 716.9 493.1 724.3 494.1 727.5 C495.2 730.7 497.3 732.8 497.9 733.8" fill="none" stroke="#000" stroke-width="1.55" stroke-linejoin="round" stroke-linecap="round" />
<path d="M503 722.4 L514.4 717.3" fill="none" stroke="#000" stroke-width="1.55" stroke-linejoin="round" stroke-linecap="round" />
<ellipse cx="500" cy="741.4" rx="7.6" ry="10.6" transform="rotate(-15 500 741.4)" fill="none" stroke="#000" stroke-width="1.55" />
<ellipse cx="500" cy="741.4" rx="3.8" ry="5.3" transform="rotate(-15 500 741.4)" fill="none" stroke="#000" stroke-width="1.55" />
<path d="M463.7 727.5 L465 740.2 L491.6 744" fill="none" stroke="#000" stroke-width="1.55" stroke-linejoin="round" stroke-linecap="round" />
<path d="M457.4 728 L458.7 734.6" fill="none" stroke="#000" stroke-width="1.55" stroke-linejoin="round" stroke-linecap="round" />
<ellipse cx="436.4" cy="728" rx="7.1" ry="9.1" transform="rotate(-15 436.4 728)" fill="none" stroke="#000" stroke-width="1.55" />
<ellipse cx="436.4" cy="728" rx="4.3" ry="5.8" transform="rotate(-15 436.4 728)" fill="none" stroke="#000" stroke-width="1.55" />
<path d="M447.3 733.1 C447.7 734.2 448.3 738.3 449.8 740.2 C451.3 742 453.9 744 456.1 744 C458.4 744 462.1 740.8 463.2 740.2" fill="none" stroke="#000" stroke-width="1.55" stroke-linejoin="round" stroke-linecap="round" />
<ellipse cx="454.9" cy="734.6" rx="3.3" ry="4.8" transform="rotate(-15 454.9 734.6)" fill="none" stroke="#000" stroke-width="1.55" />
<path d="M394.1 636.3 C395.1 638.8 398.1 645.6 400.4 651.5 C402.7 657.4 405 665 408 671.7 C411 678.5 415.4 686.9 418.1 692 C420.9 697.1 423.8 698.8 424.5 702.1 C425.1 705.5 424.3 709.7 421.9 712.3 C419.6 714.8 416.7 714.6 410.5 717.3 C404.4 720.1 392 725.8 385.2 728.8 C378.4 731.7 372.5 734 370 735.1" fill="none" stroke="#000" stroke-width="1.55" stroke-linejoin="round" stroke-linecap="round" />
<path d="M370 655.3 L387.7 646.4" fill="none" stroke="#000" stroke-width="1.55" stroke-linejoin="round" stroke-linecap="round" />
<path d="M370 717.3 L416.9 704.7" fill="none" stroke="#000" stroke-width="1.55" stroke-linejoin="round" stroke-linecap="round" />
<path d="M370 692 L385.2 685.7" fill="none" stroke="#000" stroke-width="1.55" stroke-linejoin="round" stroke-linecap="round" />
<path d="M318 627.9 C318.5 626.4 322 625.5 323.5 626 C325 626.5 327.5 629.3 329.1 631.9 C330.6 634.4 333.3 640.6 335.4 645.3 C337.5 650.1 342.3 661.4 344.9 667.5 C347.4 673.6 352 685.5 354.4 691.2 C356.7 696.9 360.4 706 362.3 710.2 C364.2 714.4 367.3 720.2 368.6 722.8 C369.9 725.5 371.9 728.4 372.1 730 C372.3 731.5 371.5 732.9 370.2 734.2 C368.9 735.6 364.2 738.4 362.3 740.3 C360.4 742.1 358.5 746.1 355.9 748.2 C353.4 750.3 346 754.6 343.3 756.1 C340.5 757.6 337.2 759.5 335.4 759.6 C333.5 759.6 330.6 758.1 329.4 756.4 C328.1 754.7 327.8 748.9 325.9 746.6 C323.9 744.2 317.8 741.8 314.8 738.7 C311.9 735.5 306.2 727.7 303.7 722.8 C301.3 718 297.7 708 296.6 702.3 C295.6 696.6 295.5 684.8 295.8 680.1 C296.1 675.5 297.1 670.6 299 667.5 C300.9 664.3 307.5 659.1 310.1 656.4 C312.6 653.6 316.7 649.4 318 646.9 C319.3 644.4 319.9 639.9 319.9 637.4 C319.9 634.9 317.5 629.4 318 627.9 Z" fill="none" stroke="#000" stroke-width="1.55" stroke-linejoin="round" stroke-linecap="round" />
<path d="M322.7 649.3 C324.6 648.2 327.2 647.3 329.1 648.5 C330.9 649.6 335.1 654.8 337 658 C338.9 661.1 341.2 667.2 343.3 672.2 C345.4 677.3 350.7 689.8 352.8 695.9 C354.9 702.1 358.5 713 359.1 718.1 C359.7 723.2 358.8 730.5 357.5 733.9 C356.3 737.3 351.9 741.5 349.6 743.4 C347.3 745.3 342.4 748 340.1 748.2 C337.8 748.4 334.7 747.3 332.2 745 C329.7 742.7 323.9 735.6 321.1 730.8 C318.4 725.9 313.2 714.5 311.6 708.6 C310.1 702.7 309.5 691.7 309.3 686.5 C309.1 681.2 309.3 673.1 310.1 669.1 C310.8 665 313.1 659 314.8 656.4 C316.5 653.8 320.8 650.3 322.7 649.3 Z" fill="none" stroke="#000" stroke-width="1.55" stroke-linejoin="round" stroke-linecap="round" />
<ellipse cx="322.4" cy="631.9" rx="2.5" ry="3.5" transform="rotate(-15 322.4 631.9)" fill="none" stroke="#000" stroke-width="1.55" />
<ellipse cx="366.2" cy="728.4" rx="2.5" ry="3.5" transform="rotate(-15 366.2 728.4)" fill="none" stroke="#000" stroke-width="1.55" />
<ellipse cx="333.8" cy="752.6" rx="2.5" ry="3.5" transform="rotate(-15 333.8 752.6)" fill="none" stroke="#000" stroke-width="1.55" />
<path d="M319.6 675.4 C320.6 674.6 323.5 671.4 325.9 670.6 C328.3 669.8 332.1 669.8 333.8 670.6 C335.5 671.4 336 673.5 336.2 675.4 C336.3 677.2 334.7 679.3 334.6 681.7 C334.5 684.1 333.9 685.7 335.4 689.6 C336.8 693.6 340.1 700.2 343.3 705.4 C346.5 710.7 352 717.3 354.4 721.3 C356.7 725.2 357 727.9 357.5 729.2" fill="none" stroke="#000" stroke-width="1.7050000000000003" stroke-linejoin="round" stroke-linecap="round" />
<path d="M317.2 683.3 C317.8 685.9 318.9 693.8 321.1 699.1 C323.4 704.4 326.9 710.2 330.6 714.9 C334.3 719.7 339.1 724.7 343.3 727.6 C347.5 730.5 353.8 731.6 355.9 732.3" fill="none" stroke="#000" stroke-width="1.55" stroke-linejoin="round" stroke-linecap="round" />
<path d="M320.3 680.1 C321 682.8 322.1 690.7 324.3 695.9 C326.5 701.2 330.1 707.3 333.8 711.8 C337.5 716.3 342.5 720.2 346.5 722.8 C350.4 725.5 355.7 726.8 357.5 727.6" fill="none" stroke="#000" stroke-width="1.55" stroke-linejoin="round" stroke-linecap="round" />
<path d="M324.3 678.5 C324.8 680.9 325.4 687.8 327.5 692.8 C329.6 697.8 333.5 704.4 337 708.6 C340.4 712.8 344.6 715.7 348 718.1 C351.5 720.5 355.9 722.1 357.5 722.8" fill="none" stroke="#000" stroke-width="1.55" stroke-linejoin="round" stroke-linecap="round" />
<path d="M329.1 674.6 C329.3 676.6 329.1 681.8 330.6 686.5 C332.2 691.1 335.4 697.5 338.5 702.3 C341.7 707 347.8 712.8 349.6 714.9" fill="none" stroke="#000" stroke-width="1.55" stroke-linejoin="round" stroke-linecap="round" />
<path d="M318 681.7 C318.2 680.4 318.4 676 319.6 673.8 C320.7 671.6 322.9 669.3 325.1 668.3 C327.3 667.2 330.9 667.1 333 667.5 C335.1 667.9 337 670.1 337.8 670.6" fill="none" stroke="#000" stroke-width="1.55" stroke-linejoin="round" stroke-linecap="round" />
<path d="M299.8 728.4 L346.5 701.5" fill="none" stroke="#000" stroke-width="1.1" stroke-linejoin="round" stroke-linecap="round" />
<path d="M327.5 741.8 L343.3 732.3" fill="none" stroke="#000" stroke-width="1.55" stroke-linejoin="round" stroke-linecap="round" stroke-dasharray="10 6" />
<path d="M346.5 730.8 L354.4 726" fill="none" stroke="#000" stroke-width="1.55" stroke-linejoin="round" stroke-linecap="round" />
<ellipse cx="371.8" cy="719.7" rx="4.1" ry="4.7" transform="rotate(-15 371.8 719.7)" fill="none" stroke="#000" stroke-width="1.1" stroke-dasharray="3 2.2"/>
<path d="M216.2 652.4 C216.9 654 218.7 659.8 220.5 662 C222.2 664.2 224.7 665.7 226.9 665.6 C229 665.5 230.8 660.7 233.2 661.4 C235.7 662 238.9 667.5 241.8 669.5 C244.6 671.4 248.2 673.5 250.3 673.1 C252.4 672.6 252.1 668 254.5 666.7 C257 665.4 261.6 665.4 265.2 665.2 C268.7 664.9 273.4 664.1 275.8 665.2 C278.3 666.3 278.6 669.5 280.1 671.6 C281.6 673.7 283.9 675.5 284.8 678 C285.7 680.5 284.8 683.7 285.4 686.5 C286.1 689.3 287 692.9 288.6 695 C290.2 697.1 294 698.6 295 699.3" fill="none" stroke="#000" stroke-width="1.55" stroke-linejoin="round" stroke-linecap="round" />
<path d="M220.5 648.2 C222.6 649.2 228.3 652.9 233.2 654.5 C238.2 656.1 244.3 657 250.3 657.7 C256.3 658.5 264.5 658.3 269.5 658.8 C274.4 659.3 276.9 659.2 280.1 660.9 C283.3 662.7 286.5 666.3 288.6 669.5 C290.8 672.7 292.2 678.3 292.9 680.1" fill="none" stroke="#000" stroke-width="1.55" stroke-linejoin="round" stroke-linecap="round" />
<ellipse cx="223.7" cy="657.7" rx="2.6" ry="3.6" transform="rotate(-15 223.7 657.7)" fill="none" stroke="#000" stroke-width="1.55" />
<ellipse cx="245" cy="665.2" rx="2.6" ry="3.6" transform="rotate(-15 245 665.2)" fill="none" stroke="#000" stroke-width="1.55" />
<ellipse cx="282.2" cy="667.3" rx="2.6" ry="3.6" transform="rotate(-15 282.2 667.3)" fill="none" stroke="#000" stroke-width="1.55" />
<ellipse cx="289.7" cy="689.7" rx="2.6" ry="3.6" transform="rotate(-15 289.7 689.7)" fill="none" stroke="#000" stroke-width="1.55" />
<path d="M278 621.5 C278.7 623.5 280.8 629.9 282.2 633.2 C283.7 636.6 285.1 639.6 286.5 641.8 C287.9 643.9 290 645.3 290.8 646" fill="none" stroke="#000" stroke-width="1.55" stroke-linejoin="round" stroke-linecap="round" />
<path d="M290.8 622.6 C291.3 624 293 628.5 294 631.1 C294.9 633.8 296.3 637.3 296.7 638.6" fill="none" stroke="#000" stroke-width="1.55" stroke-linejoin="round" stroke-linecap="round" />
<path d="M331.3 632.6 L354.5 621.9" fill="none" stroke="#000" stroke-width="1.55" stroke-linejoin="round" stroke-linecap="round" />
<path d="M350.7 666.5 L385.5 646.1" fill="none" stroke="#000" stroke-width="1.55" stroke-linejoin="round" stroke-linecap="round" />
<path d="M373.9 712 L410.7 692.6" fill="none" stroke="#000" stroke-width="1.55" stroke-linejoin="round" stroke-linecap="round" />
<path d="M381.7 738.1 C384.2 739.1 391.7 743.9 397.1 743.9 C402.6 743.9 409.4 740.4 414.6 738.1 C419.7 735.8 425.9 731.6 428.1 730.4" fill="none" stroke="#000" stroke-width="1.55" stroke-linejoin="round" stroke-linecap="round" />
<ellipse cx="371" cy="718.7" rx="2.3" ry="3.1" transform="rotate(-15 371 718.7)" fill="none" stroke="#000" stroke-width="1.0" />
<ellipse cx="681.3" cy="104.2" rx="38.7" ry="19" transform="rotate(-8 681.3 104.2)" fill="none" stroke="#000" stroke-width="1.8599999999999999" />
<ellipse cx="681.3" cy="104.7" rx="32" ry="13.5" transform="rotate(-8 681.3 104.7)" fill="none" stroke="#000" stroke-width="1.55" />
<path d="M643.2 109 C645.7 111.2 651.7 119.4 658.1 122.2 C664.4 125 673.6 126.6 681.3 126.1 C689.1 125.6 698.2 123.1 704.5 119.3 C710.9 115.5 717 105.9 719.5 103.2" fill="none" stroke="#000" stroke-width="1.55" stroke-linejoin="round" stroke-linecap="round" />
<path d="M645.5 118.7 C646.1 121.6 647.8 130.5 649.4 136.1 C651 141.8 654.2 149.9 655.2 152.6" fill="none" stroke="#000" stroke-width="1.55" stroke-linejoin="round" stroke-linecap="round" />
<path d="M719.1 105.2 C719.6 107.4 720.4 115.2 722 118.7 C723.6 122.3 727.5 123.6 728.8 126.5 C730 129.4 729.6 134.5 729.7 136.1" fill="none" stroke="#000" stroke-width="1.55" stroke-linejoin="round" stroke-linecap="round" />
<ellipse cx="679.4" cy="151.2" rx="3.9" ry="5.2" transform="rotate(-15 679.4 151.2)" fill="none" stroke="#000" stroke-width="1.55" />
<path d="M685.2 156.5 C684.1 156.8 680.4 158.9 678.4 158.4 C676.4 157.9 674.2 155.3 673.2 153.6 C672.2 151.8 672.3 149.6 672.6 147.8 C672.9 145.9 673.7 143.5 675.1 142.3 C676.6 141.2 679 142.3 681.3 141 C683.6 139.7 683.3 137.9 689.1 134.6 C694.9 131.3 710 123.2 716.2 121 C722.3 118.9 723.7 120.4 725.8 121.6 C728 122.9 728.8 127.3 729.3 128.4" fill="none" stroke="#000" stroke-width="1.55" stroke-linejoin="round" stroke-linecap="round" />
<path d="M691 152.6 L723.9 135.2" fill="none" stroke="#000" stroke-width="1.55" stroke-linejoin="round" stroke-linecap="round" />
<path d="M685.2 156.5 C686.2 157.2 689.1 160.8 691 160.9 C692.9 161.1 695.4 157.4 696.8 157.4 C698.3 157.5 699.2 160.7 699.7 161.3" fill="none" stroke="#000" stroke-width="1.55" stroke-linejoin="round" stroke-linecap="round" />
<ellipse cx="706.1" cy="164.2" rx="3.9" ry="5.2" transform="rotate(-15 706.1 164.2)" fill="none" stroke="#000" stroke-width="1.55" />
<path d="M699.7 161.3 C700.2 160.5 700.8 157.5 702.6 156.7 C704.4 155.9 705.2 159.6 710.4 156.5 C715.5 153.4 728.7 141 733.6 138.1 C738.5 135.2 738.3 138.1 739.8 139.1 C741.2 140 741.9 143.1 742.3 143.9" fill="none" stroke="#000" stroke-width="1.55" stroke-linejoin="round" stroke-linecap="round" />
<path d="M699.7 161.3 C699.9 162.8 699.5 167.8 700.7 170 C701.8 172.3 704.2 174.5 706.5 174.9 C708.7 175.2 712.3 173.1 714.2 172 C716.2 170.8 714.9 170.7 718.1 168.1 C721.3 165.5 731 158.4 733.6 156.5" fill="none" stroke="#000" stroke-width="1.55" stroke-linejoin="round" stroke-linecap="round" />
<path d="M716.2 157.4 L735.5 146.8" fill="none" stroke="#000" stroke-width="1.55" stroke-linejoin="round" stroke-linecap="round" />
<path d="M718.1 168.1 C719.1 167.8 722.3 166 723.9 166.2 C725.5 166.3 727.1 168.6 727.8 169.1" fill="none" stroke="#000" stroke-width="1.55" stroke-linejoin="round" stroke-linecap="round" />
<ellipse cx="743.3" cy="156.5" rx="3.9" ry="5.2" transform="rotate(-15 743.3 156.5)" fill="none" stroke="#000" stroke-width="1.55" />
<path d="M736.5 152 C737.3 151.2 739.2 147.5 741.3 146.8 C743.4 146.1 747.3 146.6 749.1 147.8 C750.9 148.9 751.7 151.3 752 153.6 C752.3 155.8 751.8 159.4 751 161.3 C750.2 163.3 747.8 164.5 747.1 165.2" fill="none" stroke="#000" stroke-width="1.55" stroke-linejoin="round" stroke-linecap="round" />
<path d="M733.6 156.5 C733.9 157.6 733.9 160.8 735.5 163.3 C737.1 165.7 741 168.7 743.3 171 C745.5 173.3 748.1 175.8 749.1 176.8" fill="none" stroke="#000" stroke-width="1.55" stroke-linejoin="round" stroke-linecap="round" />
<ellipse cx="639.3" cy="176.8" rx="3.9" ry="5.2" transform="rotate(-15 639.3 176.8)" fill="none" stroke="#000" stroke-width="1.55" />
<path d="M644.5 178.7 C643.6 179.7 640.8 184.2 638.7 184.5 C636.6 184.9 633.4 182.6 631.9 180.7 C630.5 178.7 629.8 175.2 630 172.9 C630.2 170.7 631.4 168.4 633.3 167.1 C635.2 165.8 635.9 168.3 641.6 165.2 C647.4 162.1 662.6 151.6 667.8 148.7 C672.9 145.8 671.8 147.9 672.6 147.8" fill="none" stroke="#000" stroke-width="1.55" stroke-linejoin="round" stroke-linecap="round" />
<path d="M646.5 171 L677.4 154.5" fill="none" stroke="#000" stroke-width="1.55" stroke-linejoin="round" stroke-linecap="round" />
<path d="M650.3 171 L677.4 165.2" fill="none" stroke="#000" stroke-width="1.55" stroke-linejoin="round" stroke-linecap="round" />
<path d="M646.5 185.5 L677.4 171" fill="none" stroke="#000" stroke-width="1.55" stroke-linejoin="round" stroke-linecap="round" />
<path d="M630 172.9 C630.7 175.5 633.4 181.3 633.9 188.4 C634.4 195.5 632.8 207.8 632.9 215.5 C633.1 223.3 633.9 227.5 634.8 234.9 C635.8 242.3 638.1 255.9 638.7 260.1" fill="none" stroke="#000" stroke-width="1.55" stroke-linejoin="round" stroke-linecap="round" />
<path d="M644.5 178.7 C644 181.6 642.4 190 641.6 196.2 C640.8 202.3 639.7 209.1 639.7 215.5 C639.7 222 640.5 227.5 641.6 234.9 C642.8 242.3 645.7 255.9 646.5 260.1" fill="none" stroke="#000" stroke-width="1.55" stroke-linejoin="round" stroke-linecap="round" />
<path d="M633.9 230 C634.7 233.5 636.5 243.2 638.7 251.3 C641 259.4 646.2 272.3 647.4 278.4 C648.7 284.5 645.8 285.3 646.1 288.1 C646.4 290.8 647.9 293.4 649.4 294.9 C650.9 296.3 653.7 294.1 655.2 296.8 C656.6 299.5 655.9 304.4 658.1 311.3 C660.2 318.3 664 328.7 668.2 338.4 C672.3 348.1 680.7 364.2 683.3 369.4" fill="none" stroke="#000" stroke-width="1.55" stroke-linejoin="round" stroke-linecap="round" />
<path d="M641.6 230 C642.6 233.9 645 245.5 647.4 253.2 C649.9 261 654 271 656.1 276.5 C658.3 282 659.4 282.9 660.4 286.1 C661.4 289.4 661.4 292.3 662 295.8 C662.5 299.4 661.9 301 663.9 307.4 C665.9 313.9 669.8 324.9 674 334.5 C678.2 344.2 686.5 360.4 689.1 365.5" fill="none" stroke="#000" stroke-width="1.55" stroke-linejoin="round" stroke-linecap="round" />
<ellipse cx="653.2" cy="288.1" rx="3.3" ry="4.6" transform="rotate(-15 653.2 288.1)" fill="none" stroke="#000" stroke-width="1.55" />
<path d="M658.1 276.5 L685.2 261.9" fill="none" stroke="#000" stroke-width="1.55" stroke-linejoin="round" stroke-linecap="round" />
<path d="M660 292 L708.4 265.8 L710.4 268.7 L664.9 294.9" fill="none" stroke="#000" stroke-width="1.55" stroke-linejoin="round" stroke-linecap="round" />
<path d="M679.4 171 C678.4 173.9 674.4 181 673.6 188.4 C672.8 195.8 673.2 206.8 674.5 215.5 C675.8 224.2 679.2 233.3 681.3 240.7 C683.4 248.1 686.2 256.8 687.1 260.1" fill="none" stroke="#000" stroke-width="1.55" stroke-linejoin="round" stroke-linecap="round" />
<path d="M676.5 230 C677.6 232.9 680.2 241.6 683.3 247.4 C686.3 253.2 692.6 261 694.9 264.8 C697.1 268.7 696.5 269.7 696.8 270.7" fill="none" stroke="#000" stroke-width="1.55" stroke-linejoin="round" stroke-linecap="round" />
<path d="M751 128.4 C751.3 127.1 750.7 122.8 753 120.7 C755.2 118.6 761 115.7 764.6 115.8 C768.1 116 771.3 118.2 774.2 121.6 C777.2 125 780.7 133.7 782 136.1" fill="none" stroke="#000" stroke-width="1.55" stroke-linejoin="round" stroke-linecap="round" />
<ellipse cx="759.7" cy="129.4" rx="3.5" ry="4.8" transform="rotate(-15 759.7 129.4)" fill="none" stroke="#000" stroke-width="1.55" />
<path d="M739.4 144.9 C741.7 143.4 748.1 138.6 753 136.1 C757.8 133.7 764.6 130.3 768.4 130.3 C772.3 130.3 774.1 134.2 776.2 136.1 C778.3 138.1 780.2 141 781 142" fill="none" stroke="#000" stroke-width="1.55" stroke-linejoin="round" stroke-linecap="round" />
<path d="M762.6 162.3 C764.9 160.8 779.2 155.2 782 154.5 C784.8 153.9 786.4 155.2 786.8 156.5 C787.3 157.7 788.2 163.6 785.9 165.2 C783.5 166.8 769.2 169.8 766.5 170 C763.8 170.3 763.1 168 762.6 167.1 C762.2 166.2 760.4 163.8 762.6 162.3 Z" fill="none" stroke="#000" stroke-width="1.55" stroke-linejoin="round" stroke-linecap="round" />
<path d="M756.8 151.6 L800 136.1" fill="none" stroke="#000" stroke-width="1.55" stroke-linejoin="round" stroke-linecap="round" />
<path d="M781 142.9 L800 136.5" fill="none" stroke="#000" stroke-width="1.55" stroke-linejoin="round" stroke-linecap="round" />
<path d="M744.2 172 L750 176.8" fill="none" stroke="#000" stroke-width="1.0" stroke-linejoin="round" stroke-linecap="round" stroke-dasharray="4 4" />
<ellipse cx="750.5" cy="240" rx="42.4" ry="59" transform="rotate(-19 750.5 240)" fill="none" stroke="#000" stroke-width="1.55" />
<ellipse cx="751.8" cy="241" rx="34" ry="47.2" transform="rotate(-19 751.8 241)" fill="none" stroke="#000" stroke-width="1.55" />
<ellipse cx="754.5" cy="241.5" rx="28.5" ry="43.9" transform="rotate(-19 754.5 241.5)" fill="none" stroke="#000" stroke-width="1.55" />
<ellipse cx="753" cy="216.5" rx="4.3" ry="5" transform="rotate(-15 753 216.5)" fill="none" stroke="#000" stroke-width="1.1" stroke-dasharray="3 2.2"/>
<path d="M750 154.5 L813.9 131.3" fill="none" stroke="#000" stroke-width="1.55" stroke-linejoin="round" stroke-linecap="round" />
<path d="M813.9 131.3 C815.2 132.1 819.4 133.7 821.6 136.1 C823.9 138.6 825.8 142.3 827.4 145.8 C829.1 149.4 829.1 153.9 831.3 157.4 C833.6 161 838.7 163.3 841 167.1 C843.3 171 844.5 176.5 844.9 180.7 C845.2 184.9 842.3 187.8 842.9 192.3 C843.6 196.8 846.8 203.3 848.7 207.8 C850.7 212.3 852.9 215.9 854.5 219.4 C856.2 222.9 855.8 226.5 858.4 229.1 C861 231.7 866.8 232.3 870 234.9 C873.3 237.5 876.2 240.4 877.8 244.6 C879.4 248.8 879.4 257.5 879.7 260.1" fill="none" stroke="#000" stroke-width="1.55" stroke-linejoin="round" stroke-linecap="round" />
<path d="M753.9 156.9 L813.9 135.2" fill="none" stroke="#000" stroke-width="1.55" stroke-linejoin="round" stroke-linecap="round" stroke-dasharray="18 6" />
<path d="M762.6 163.3 C764.7 161.9 780.5 155.1 782.9 154.5 C785.3 154 786.5 156.4 786.8 157.4 C787.1 158.5 787.9 163.8 785.8 165.2 C783.7 166.5 767.9 170.7 765.5 171 C763.1 171.3 762.3 168.9 762 168.1 C761.7 167.3 760.5 164.6 762.6 163.3 Z" fill="none" stroke="#000" stroke-width="1.55" stroke-linejoin="round" stroke-linecap="round" />
<path d="M795.5 148.7 C797.8 146.5 810.8 141.4 813.9 142 C816.9 142.5 820.4 151.3 821.6 153.6 C822.9 155.8 825.2 159.4 824.5 161.3 C823.9 163.2 818.7 169.1 815.8 170 C813 170.9 802.8 170.1 800.3 169.1 C797.9 168 795.1 163.7 794.5 161.3 C794 158.9 793.2 151 795.5 148.7 Z" fill="none" stroke="#000" stroke-width="1.55" stroke-linejoin="round" stroke-linecap="round" />
<path d="M797.4 165.2 L824.5 160.3" fill="none" stroke="#000" stroke-width="1.55" stroke-linejoin="round" stroke-linecap="round" />
<ellipse cx="833.3" cy="172.9" rx="5.8" ry="7.4" transform="rotate(-15 833.3 172.9)" fill="none" stroke="#000" stroke-width="1.55" />
<ellipse cx="844.9" cy="213.6" rx="2.5" ry="10.6" transform="rotate(-15 844.9 213.6)" fill="none" stroke="#000" stroke-width="1.55" />
<ellipse cx="869.1" cy="248.4" rx="5.8" ry="8.1" transform="rotate(-10 869.1 248.4)" fill="none" stroke="#000" stroke-width="1.55" />
<path d="M751.9 136.1 C751.9 134.2 750.3 127.9 751.9 124.5 C753.5 121.1 758.4 116.9 761.6 115.8 C764.8 114.7 768.7 115.7 771.3 117.8 C773.9 119.9 775.2 124.7 777.1 128.4 C779 132.1 781.9 138.1 782.9 140" fill="none" stroke="#000" stroke-width="1.55" stroke-linejoin="round" stroke-linecap="round" />
<path d="M755.8 134.2 C756.1 132.8 756.5 126.8 757.7 125.5 C759 124.2 762.3 125.3 763.6 126.5 C764.8 127.6 765.2 131.3 765.5 132.3" fill="none" stroke="#000" stroke-width="1.55" stroke-linejoin="round" stroke-linecap="round" />
<path d="M773.2 176.8 C776.5 177.1 786.1 176.5 792.6 178.7 C799 181 806.1 185.5 812 190.4 C817.8 195.2 823.2 201.3 827.4 207.8 C831.6 214.2 835 220.4 837.1 229.1 C839.2 237.8 839.5 254.9 840 260.1" fill="none" stroke="#000" stroke-width="1.55" stroke-linejoin="round" stroke-linecap="round" />
<path d="M779 181.6 C781.9 182.3 791 182.8 796.5 185.5 C802 188.3 807.3 193.1 812 198.1 C816.6 203.1 821.3 209.4 824.5 215.5 C827.8 221.7 829.9 227.5 831.3 234.9 C832.8 242.3 832.9 255.9 833.3 260.1" fill="none" stroke="#000" stroke-width="1.55" stroke-linejoin="round" stroke-linecap="round" />
<path d="M773.2 180.7 C772.7 182 770 186.2 770.3 188.4 C770.7 190.7 772.4 193.3 775.2 194.2 C777.9 195.2 782.9 195.4 786.8 194.2 C790.7 193.1 796.5 188.6 798.4 187.5" fill="none" stroke="#000" stroke-width="1.55" stroke-linejoin="round" stroke-linecap="round" />
<path d="M788.7 218.4 C790.3 218.6 793.6 220.9 798.4 219.4 C803.2 217.9 814.5 211.3 817.8 209.7" fill="none" stroke="#000" stroke-width="1.55" stroke-linejoin="round" stroke-linecap="round" />
<path d="M798.4 236.8 C799.4 235.5 799.7 231.5 804.2 229.1 C808.7 226.7 822 223.4 825.5 222.3" fill="none" stroke="#000" stroke-width="1.55" stroke-linejoin="round" stroke-linecap="round" />
<path d="M812 258.1 L835.2 248.4" fill="none" stroke="#000" stroke-width="1.55" stroke-linejoin="round" stroke-linecap="round" />
<ellipse cx="826.5" cy="233" rx="4.3" ry="5" transform="rotate(-15 826.5 233)" fill="none" stroke="#000" stroke-width="1.1" stroke-dasharray="3 2.2"/>
<ellipse cx="753.9" cy="217.5" rx="4.3" ry="5" transform="rotate(-15 753.9 217.5)" fill="none" stroke="#000" stroke-width="1.1" stroke-dasharray="3 2.2"/>
<path d="M858.4 235.8 C860.4 235.5 866.8 232.6 870 233.9 C873.3 235.2 876.3 239.4 877.8 243.6 C879.2 247.7 877.5 254.5 878.8 259 C880 263.6 883.6 267.1 885.5 270.7 C887.5 274.2 890.4 276.8 890.4 280.3 C890.4 283.9 889.6 287.4 885.5 292 C881.5 296.5 870.2 303.2 866.2 307.4 C862.1 311.6 861.6 313.9 861.3 317.1 C861 320.4 861.8 325.4 864.2 326.8 C866.7 328.3 872.8 324.5 875.8 325.8 C878.9 327.1 881.7 331.5 882.6 334.5 C883.6 337.6 883.1 341.6 881.7 344.2 C880.2 346.8 877.8 347.1 873.9 350 C870 352.9 861.5 359.1 858.4 361.7 C855.4 364.2 856 364.9 855.5 365.5" fill="none" stroke="#000" stroke-width="1.55" stroke-linejoin="round" stroke-linecap="round" />
<path d="M877.8 357.8 C879.1 359.1 884.2 362.3 885.5 365.5 C886.8 368.8 885 374.2 885.5 377.1 C886 380 887.9 382 888.4 383" fill="none" stroke="#000" stroke-width="1.55" stroke-linejoin="round" stroke-linecap="round" />
<ellipse cx="868.5" cy="248.4" rx="5.4" ry="7.7" transform="rotate(-10 868.5 248.4)" fill="none" stroke="#000" stroke-width="1.55" />
<path d="M847.8 275.5 C848.8 273.6 852.8 267.4 855.5 265.8 C858.2 264.2 868.4 261.6 871 261.9 C873.6 262.3 876.3 266.5 877.8 268.7 C879.3 271 884.9 277.9 883.6 281.3 C882.2 284.7 869.2 296.3 866.2 297.8 C863.1 299.2 859.7 295.7 857.5 293.9 C855.2 292.1 847.9 284.4 846.8 282.3 C845.7 280.1 846.8 277.4 847.8 275.5 Z" fill="none" stroke="#000" stroke-width="1.55" stroke-linejoin="round" stroke-linecap="round" />
<path d="M850.7 287.1 L881.7 281.3" fill="none" stroke="#000" stroke-width="1.55" stroke-linejoin="round" stroke-linecap="round" />
<path d="M830.3 313.3 C831.3 310.4 841.4 295 843.9 293.9 C846.4 292.8 855 300.7 855.5 302.6 C856 304.5 850.9 311.3 848.7 313.3 C846.6 315.2 836.1 322 834.2 322 C832.4 322 829.4 316.1 830.3 313.3 Z" fill="none" stroke="#000" stroke-width="1.55" stroke-linejoin="round" stroke-linecap="round" />
<path d="M838.1 306.5 L854.5 303.6" fill="none" stroke="#000" stroke-width="1.55" stroke-linejoin="round" stroke-linecap="round" />
<ellipse cx="872.9" cy="337.5" rx="4.3" ry="5.8" transform="rotate(-10 872.9 337.5)" fill="none" stroke="#000" stroke-width="1.55" />
<path d="M840 230 C840.2 233.2 841.5 242.6 841 249.4 C840.5 256.1 839.1 263.9 837.1 270.7 C835.2 277.4 832.6 284.2 829.4 290 C826.2 295.8 819.7 302.9 817.8 305.5" fill="none" stroke="#000" stroke-width="1.55" stroke-linejoin="round" stroke-linecap="round" />
<path d="M833.3 230 C833.4 233.2 834.7 242.9 834.2 249.4 C833.7 255.8 832.1 262.6 830.3 268.7 C828.6 274.9 826.6 280.3 823.6 286.1 C820.5 292 813.9 300.7 812 303.6" fill="none" stroke="#000" stroke-width="1.55" stroke-linejoin="round" stroke-linecap="round" />
<path d="M817.8 305.5 C819.4 308.1 824.5 315.5 827.4 321 C830.3 326.5 832.9 332.9 835.2 338.4 C837.4 343.9 838.4 347.5 841 353.9 C843.6 360.4 847.8 371 850.7 377.1 C853.6 383.3 856.6 387.1 858.4 390.7 C860.2 394.2 860.8 397.2 861.3 398.4" fill="none" stroke="#000" stroke-width="1.55" stroke-linejoin="round" stroke-linecap="round" />
<path d="M821.6 307.4 C823.2 310.7 828.7 321 831.3 326.8 C833.9 332.6 836.2 339.7 837.1 342.3" fill="none" stroke="#000" stroke-width="1.55" stroke-linejoin="round" stroke-linecap="round" />
<path d="M837.1 342.3 L864.2 326.8" fill="none" stroke="#000" stroke-width="1.55" stroke-linejoin="round" stroke-linecap="round" />
<path d="M835.2 322.9 L861.3 315.2" fill="none" stroke="#000" stroke-width="1.55" stroke-linejoin="round" stroke-linecap="round" />
<path d="M795.5 230 C795.7 233.2 797.1 242.9 796.5 249.4 C795.8 255.8 793.9 263.6 791.6 268.7 C789.4 273.9 786.6 277.1 782.9 280.3 C779.2 283.6 773.9 286.5 769.4 288.1 C764.8 289.7 758.1 289.7 755.8 290" fill="none" stroke="#000" stroke-width="1.55" stroke-linejoin="round" stroke-linecap="round" />
<ellipse cx="801.9" cy="267.8" rx="3.9" ry="4.8" transform="rotate(-15 801.9 267.8)" fill="none" stroke="#000" stroke-width="1.1" stroke-dasharray="3 2.2"/>
<path d="M806.1 261 L835.2 248.4" fill="none" stroke="#000" stroke-width="1.55" stroke-linejoin="round" stroke-linecap="round" />
<path d="M808.1 275.5 C809.7 275.3 813.2 276 817.8 274.5 C822.3 273.1 832.3 268.1 835.2 266.8" fill="none" stroke="#000" stroke-width="1.55" stroke-linejoin="round" stroke-linecap="round" />
<path d="M796.5 286.1 L810 311.3" fill="none" stroke="#000" stroke-width="2.2" stroke-linejoin="round" stroke-linecap="round" />
<path d="M773.2 301.6 C774.8 300.3 779 296.5 782.9 293.9 C786.8 291.3 794.2 287.4 796.5 286.1" fill="none" stroke="#000" stroke-width="1.55" stroke-linejoin="round" stroke-linecap="round" />
<path d="M782.9 293.9 C783.9 296.2 785.8 303.2 788.7 307.4 C791.6 311.6 798.4 317.1 800.3 319.1" fill="none" stroke="#000" stroke-width="1.55" stroke-linejoin="round" stroke-linecap="round" />
<path d="M775.2 321 C775.8 320 776.8 316.5 779 315.2 C781.3 313.9 785.2 312.6 788.7 313.3 C792.3 313.9 798.4 318.1 800.3 319.1" fill="none" stroke="#000" stroke-width="1.55" stroke-linejoin="round" stroke-linecap="round" />
<path d="M780 332.6 L812 313.3" fill="none" stroke="#000" stroke-width="1.55" stroke-linejoin="round" stroke-linecap="round" />
<path d="M812 313.3 C812.6 314.2 815.5 316.2 815.8 319.1 C816.2 322 815.8 327.5 813.9 330.7 C812 333.9 807.6 337 804.2 338.4 C800.8 339.9 795.3 339.2 793.6 339.4" fill="none" stroke="#000" stroke-width="1.55" stroke-linejoin="round" stroke-linecap="round" />
<ellipse cx="787.4" cy="341.9" rx="3.9" ry="5.4" transform="rotate(-15 787.4 341.9)" fill="none" stroke="#000" stroke-width="1.55" />
<path d="M793.6 339.4 C792.8 338.4 790.8 334.4 788.7 333.6 C786.6 332.8 782.6 332.5 781 334.5 C779.4 336.6 778.2 343.3 779 346.2 C779.8 349.1 782.9 351.2 785.8 352 C788.7 352.8 793.7 350.4 796.5 351 C799.2 351.7 799.4 355.4 802.3 355.8 C805.2 356.3 812 354.2 813.9 353.9" fill="none" stroke="#000" stroke-width="1.55" stroke-linejoin="round" stroke-linecap="round" />
<path d="M805.2 342.3 C806.4 341.6 815.5 339 817.8 339.4 C820 339.8 825.7 343.9 827.4 346.2 C829.2 348.4 834 359.1 835.2 361.7 C836.4 364.2 839.3 370.2 839.1 371.3 C838.9 372.5 834.6 374 833.3 373.3 C831.9 372.5 826.7 365.5 825.5 363.6 C824.3 361.7 823.2 355.3 821.6 353.9 C820.1 352.6 811.7 350.8 810 350 C808.4 349.3 805.7 346.9 805.2 346.2 C804.7 345.4 803.9 343 805.2 342.3 Z" fill="none" stroke="#000" stroke-width="1.55" stroke-linejoin="round" stroke-linecap="round" />
<ellipse cx="824.5" cy="334.5" rx="3.3" ry="4.6" transform="rotate(-15 824.5 334.5)" fill="none" stroke="#000" stroke-width="1.55" />
<ellipse cx="847.8" cy="381" rx="3.7" ry="5.2" transform="rotate(-15 847.8 381)" fill="none" stroke="#000" stroke-width="1.55" />
<ellipse cx="812.9" cy="380" rx="4.3" ry="5.4" transform="rotate(-15 812.9 380)" fill="none" stroke="#000" stroke-width="1.55" />
<ellipse cx="812.9" cy="380" rx="2.3" ry="3.3" transform="rotate(-15 812.9 380)" fill="none" stroke="#000" stroke-width="1.55" />
<path d="M816.8 365.5 C817.3 366.8 817.9 371.3 819.7 373.3 C821.5 375.2 825.5 377.1 827.4 377.1 C829.4 377.1 830.7 373.9 831.3 373.3" fill="none" stroke="#000" stroke-width="1.55" stroke-linejoin="round" stroke-linecap="round" />
<path d="M813.9 365.5 L817.8 357.8" fill="none" stroke="#000" stroke-width="2.0" stroke-linejoin="round" stroke-linecap="round" />
<path d="M819.7 363.6 L823.6 369.4" fill="none" stroke="#000" stroke-width="1.55" stroke-linejoin="round" stroke-linecap="round" />
<path d="M775.2 321 C775 323.3 773.6 329.7 774.2 334.5 C774.8 339.4 776.6 344.9 779 350 C781.5 355.2 784.8 361.3 788.7 365.5 C792.6 369.7 798.4 373.3 802.3 375.2 C806.1 377.1 810.3 376.8 812 377.1" fill="none" stroke="#000" stroke-width="1.55" stroke-linejoin="round" stroke-linecap="round" />
<path d="M768.4 315.2 C768.1 318.4 765.7 327.5 766.5 334.5 C767.3 341.6 770.2 351 773.2 357.8 C776.3 364.6 780.3 370.4 784.8 375.2 C789.4 380 795.5 384.6 800.3 386.8 C805.2 389.1 811.6 388.4 813.9 388.8" fill="none" stroke="#000" stroke-width="1.55" stroke-linejoin="round" stroke-linecap="round" />
<path d="M750 293.9 C751.9 296.2 758.6 303.9 761.6 307.4 C764.7 311 767.3 313.9 768.4 315.2" fill="none" stroke="#000" stroke-width="1.55" stroke-linejoin="round" stroke-linecap="round" />
<path d="M750 303.6 C751.3 305.2 755.8 308.7 757.7 313.3 C759.7 317.8 759.7 323.9 761.6 330.7 C763.6 337.5 765.8 346.2 769.4 353.9 C772.9 361.7 777.8 371 782.9 377.1 C788.1 383.3 797.4 388.4 800.3 390.7" fill="none" stroke="#000" stroke-width="1.55" stroke-linejoin="round" stroke-linecap="round" />
<path d="M750 368.4 L783.9 350" fill="none" stroke="#000" stroke-width="1.0" stroke-linejoin="round" stroke-linecap="round" />
<path d="M812 408.1 C812.9 406.8 811.3 403.6 817.8 400.4 C824.2 397.2 845.2 390.7 850.7 388.8" fill="none" stroke="#000" stroke-width="1.55" stroke-linejoin="round" stroke-linecap="round" />
<path d="M827.4 404.2 L850.7 394.6" fill="none" stroke="#000" stroke-width="1.55" stroke-linejoin="round" stroke-linecap="round" />
<path d="M854.5 363.6 L858.4 361.7 L881.7 355.8 L885.5 365.5" fill="none" stroke="#000" stroke-width="1.55" stroke-linejoin="round" stroke-linecap="round" />
<path d="M854.5 363.6 C855.8 367.5 860.4 382 862.3 386.8 C864.2 391.7 865.5 391.7 866.2 392.6" fill="none" stroke="#000" stroke-width="1.55" stroke-linejoin="round" stroke-linecap="round" />
<path d="M864.2 390.7 C868.4 389.7 884.2 384.9 889.4 384.9 C894.6 384.9 893.3 387.5 895.2 390.7 C897.1 393.9 899.4 401 901 404.2 C902.6 407.5 904.2 409.1 904.9 410.1" fill="none" stroke="#000" stroke-width="1.55" stroke-linejoin="round" stroke-linecap="round" />
<path d="M877.8 388.8 C878.4 390.7 880.4 397.8 881.7 400.4 C882.9 403 884.9 403.6 885.5 404.2" fill="none" stroke="#000" stroke-width="1.55" stroke-linejoin="round" stroke-linecap="round" />
<ellipse cx="889.4" cy="397.5" rx="4.1" ry="5.2" transform="rotate(-15 889.4 397.5)" fill="none" stroke="#000" stroke-width="1.55" />
<path d="M866.2 384.9 L885.5 379.1" fill="none" stroke="#000" stroke-width="1.55" stroke-linejoin="round" stroke-linecap="round" />
<path d="M694.9 261 L714.2 254.2" fill="none" stroke="#000" stroke-width="1.55" stroke-linejoin="round" stroke-linecap="round" />
<path d="M707.5 275.5 L711.3 283.2" fill="none" stroke="#000" stroke-width="1.0" stroke-linejoin="round" stroke-linecap="round" />
<path d="M713.3 287.1 L717.1 293.9" fill="none" stroke="#000" stroke-width="1.0" stroke-linejoin="round" stroke-linecap="round" />
<path d="M701.6 307.4 C702.4 307 726.9 296.1 727.8 295.8 C728.7 295.5 729.5 298.3 728.8 298.7 C728 299.2 705.5 309.1 704.5 309.4 C703.6 309.7 700.9 307.9 701.6 307.4 Z" fill="none" stroke="#000" stroke-width="1.55" stroke-linejoin="round" stroke-linecap="round" />
<path d="M732.6 296.8 L745.2 300.7" fill="none" stroke="#000" stroke-width="1.55" stroke-linejoin="round" stroke-linecap="round" />
<path d="M704.7 310.4 C709.7 310.4 729 309.1 735.1 310.4 C741.1 311.6 738.9 314.5 740.8 318 C742.7 321.5 743.3 324.6 746.5 331.3 C749.6 337.9 755.6 350.6 759.7 357.8 C763.9 365.1 769.2 372.1 771.1 374.9" fill="none" stroke="#000" stroke-width="1.55" stroke-linejoin="round" stroke-linecap="round" />
<path d="M701.6 307.4 L708.4 324.9" fill="none" stroke="#000" stroke-width="1.55" stroke-linejoin="round" stroke-linecap="round" />
<path d="M701.9 359.6 L727.4 346.1 A8 10.8 -27.9 0 0 717.3 327 L691.8 340.5 Z" fill="#fff" stroke="#000" stroke-width="1.55" stroke-linejoin="round" stroke-linecap="round" />
<ellipse cx="696.8" cy="350" rx="8" ry="10.8" transform="rotate(-27.9 696.8 350)" fill="#fff" stroke="#000" stroke-width="1.55" />
<ellipse cx="696.8" cy="350" rx="5" ry="7" transform="rotate(-25 696.8 350)" fill="none" stroke="#000" stroke-width="1.55" />
<path d="M681.3 409.1 L782 350" fill="none" stroke="#000" stroke-width="1.0" stroke-linejoin="round" stroke-linecap="round" />
<path d="M745.2 292 C746.8 292.3 751 292 754.9 293.9 C758.8 295.8 765.2 301.5 768.4 303.6 C771.7 305.7 773.3 306 774.2 306.5" fill="none" stroke="#000" stroke-width="1.55" stroke-linejoin="round" stroke-linecap="round" />
<path d="M747.1 293.9 C748.1 296.8 750 303.9 753 311.3 C755.9 318.7 761.3 331.3 764.6 338.4 C767.8 345.5 771 351.3 772.3 353.9" fill="none" stroke="#000" stroke-width="1.55" stroke-linejoin="round" stroke-linecap="round" />
<path d="M775.2 322.9 C774.9 325.5 772.8 332.9 773.3 338.4 C773.8 343.9 775.4 350 778.1 355.8 C780.9 361.7 786.1 369.1 789.7 373.3 C793.4 377.5 798.3 379.7 800 381" fill="none" stroke="#000" stroke-width="1.55" stroke-linejoin="round" stroke-linecap="round" />
<path d="M782 315.2 L793.6 313.3" fill="none" stroke="#000" stroke-width="1.55" stroke-linejoin="round" stroke-linecap="round" />
<path d="M780.1 326.8 C779.7 329.4 777.2 336.5 778.1 342.3 C779.1 348.1 782.2 356.5 785.9 361.7 C789.5 366.8 797.6 371.3 800 373.3" fill="none" stroke="#000" stroke-width="1.55" stroke-linejoin="round" stroke-linecap="round" />
<ellipse cx="787.4" cy="341.9" rx="3.9" ry="5.4" transform="rotate(-15 787.4 341.9)" fill="none" stroke="#000" stroke-width="1.55" />
<path d="M683.2 369.4 C684.8 372.4 689.3 381.6 692.5 387.5 C695.7 393.4 698.5 398.8 702.5 405 C706.5 411.2 713.4 420.2 716.2 425 C719.1 429.8 718.2 431.5 719.5 433.8 C720.8 436 722 437.7 723.8 438.8 C725.5 439.8 722.3 436 730 440 C737.7 444 757.5 456.2 770 462.5 C782.5 468.8 799.2 475 805 477.5" fill="none" stroke="#000" stroke-width="1.55" stroke-linejoin="round" stroke-linecap="round" />
<path d="M689 365.5 C690.5 368.5 694.9 377.6 698 383.8 C701.1 389.9 703.8 396 707.5 402.5 C711.2 409 716.9 418.5 720 422.5 C723.1 426.5 724.4 424.8 726.2 426.2 C728.1 427.7 729.4 429 731.2 431.2 C733.1 433.5 731 435.8 737.5 440 C744 444.2 758.8 450.8 770 456.2 C781.2 461.7 797.7 469.4 805 472.5 C812.3 475.6 812.3 474.6 813.8 475" fill="none" stroke="#000" stroke-width="1.55" stroke-linejoin="round" stroke-linecap="round" />
<ellipse cx="723.8" cy="432.5" rx="2.8" ry="3.8" transform="rotate(-15 723.8 432.5)" fill="none" stroke="#000" stroke-width="1.55" />
<path d="M723.8 417.5 L752.5 402.5" fill="none" stroke="#000" stroke-width="1.55" stroke-linejoin="round" stroke-linecap="round" />
<path d="M738.8 436.2 L767.5 422.5" fill="none" stroke="#000" stroke-width="1.55" stroke-linejoin="round" stroke-linecap="round" />
<path d="M720.8 355 C722.6 357.7 727.6 365.6 731.3 371.1 C734.9 376.7 738.5 383.2 742.7 388.2 C746.8 393.3 752.1 398 755.9 401.5 C759.7 405 763.2 406.6 765.4 409.1 C767.7 411.6 765.8 413.5 769.2 416.7 C772.7 419.9 777.5 423 786.3 428.1 C795.2 433.2 816.4 443.9 822.4 447.1" fill="none" stroke="#000" stroke-width="1.55" stroke-linejoin="round" stroke-linecap="round" />
<path d="M804.2 478.7 C805 480.4 807.1 485.7 809.1 488.4 C811 491.2 812.1 493.6 815.8 495.2 C819.5 496.8 826.2 495.4 831.3 498.1 C836.5 500.8 842.3 508.3 846.8 511.7 C851.3 515 855.2 517.6 858.4 518.4 C861.6 519.2 862.3 518.1 866.2 516.5 C870 514.9 878.4 508.3 881.7 508.8 C884.9 509.2 883.6 516.5 885.5 519.4 C887.5 522.3 890.4 525.4 893.3 526.2 C896.2 527 901.3 524.6 903 524.2" fill="none" stroke="#000" stroke-width="1.55" stroke-linejoin="round" stroke-linecap="round" />
<path d="M903 524.2 L928.1 509.7" fill="none" stroke="#000" stroke-width="1.55" stroke-linejoin="round" stroke-linecap="round" />
<path d="M904.9 492.3 C906.8 491 913 485.2 916.5 484.5 C920.1 483.9 923.8 485.8 926.2 488.4 C928.6 491 930.7 496.5 931 500 C931.3 503.6 928.6 508.1 928.1 509.7" fill="none" stroke="#000" stroke-width="1.55" stroke-linejoin="round" stroke-linecap="round" />
<path d="M806.1 474.9 C807.4 474.9 810.3 473.1 813.9 474.9 C817.4 476.6 822.6 483.3 827.4 485.5 C832.3 487.8 837.8 489.2 842.9 488.4 C848.1 487.6 853.9 484.9 858.4 480.7 C862.9 476.5 867.5 469.4 870 463.3 C872.6 457.1 873.9 450.7 873.9 443.9 C873.9 437.1 872.6 429.7 870 422.6 C867.5 415.5 861.6 407.1 858.4 401.3 C855.2 395.5 852.9 391.3 850.7 387.7 C848.4 384.2 845.8 381.3 844.9 380" fill="none" stroke="#000" stroke-width="1.55" stroke-linejoin="round" stroke-linecap="round" />
<path d="M850.7 380 C852.3 382.3 856.5 387.1 860.4 393.6 C864.2 400 871 410.3 873.9 418.7 C876.8 427.1 877.5 436.8 877.8 443.9 C878.1 451 874.6 456.5 875.8 461.3 C877.1 466.2 883.6 468.4 885.5 472.9 C887.5 477.5 886.8 483.9 887.5 488.4 C888.1 492.9 890 496.8 889.4 500 C888.8 503.3 884.6 506.5 883.6 507.8" fill="none" stroke="#000" stroke-width="1.55" stroke-linejoin="round" stroke-linecap="round" />
<ellipse cx="814.9" cy="485.5" rx="3.7" ry="5.2" transform="rotate(-15 814.9 485.5)" fill="none" stroke="#000" stroke-width="1.55" />
<ellipse cx="844.3" cy="495.2" rx="2.9" ry="4.1" transform="rotate(-15 844.3 495.2)" fill="none" stroke="#000" stroke-width="1.55" />
<ellipse cx="857.1" cy="506.8" rx="3.3" ry="4.6" transform="rotate(-15 857.1 506.8)" fill="none" stroke="#000" stroke-width="1.55" />
<ellipse cx="890.4" cy="513.6" rx="4.1" ry="5.6" transform="rotate(-15 890.4 513.6)" fill="none" stroke="#000" stroke-width="1.55" />
<ellipse cx="878.2" cy="476.4" rx="2.7" ry="3.7" transform="rotate(-15 878.2 476.4)" fill="none" stroke="#000" stroke-width="1.0" />
<path d="M859.4 491.3 C859.8 489.7 872.7 481.9 873.9 482.6 C875.1 483.3 884 504.2 883.6 505.8 C883.2 507.5 867.4 516.3 866.2 515.5 C865 514.8 859 493 859.4 491.3 Z" fill="none" stroke="#000" stroke-width="1.55" stroke-linejoin="round" stroke-linecap="round" />
<path d="M885.5 405.2 C885.2 406.8 883.8 411 883.6 414.8 C883.4 418.7 884.6 423.6 884.6 428.4 C884.6 433.2 883.4 439.7 883.6 443.9 C883.8 448.1 883.3 452.3 885.5 453.6 C887.8 454.9 894.6 450.3 897.1 451.6 C899.7 452.9 900 457.8 901 461.3 C902 464.9 902.3 467.8 903 472.9 C903.6 478.1 904.6 489.1 904.9 492.3" fill="none" stroke="#000" stroke-width="1.55" stroke-linejoin="round" stroke-linecap="round" />
<path d="M885.5 460.3 L891.3 458.4" fill="none" stroke="#000" stroke-width="1.55" stroke-linejoin="round" stroke-linecap="round" />
<path d="M889.4 485.5 L897.1 482.6" fill="none" stroke="#000" stroke-width="1.55" stroke-linejoin="round" stroke-linecap="round" />
<path d="M893.3 499.1 L901 496.2" fill="none" stroke="#000" stroke-width="1.55" stroke-linejoin="round" stroke-linecap="round" />
<path d="M889.4 421.6 L897.1 419.7" fill="none" stroke="#000" stroke-width="1.55" stroke-linejoin="round" stroke-linecap="round" />
<path d="M886.5 438.1 L892.3 436.1" fill="none" stroke="#000" stroke-width="1.55" stroke-linejoin="round" stroke-linecap="round" />
<path d="M899.1 428.4 C899.4 426 901.6 424.2 903 423.6 C904.3 422.9 909.1 421.4 910.7 422.6 C912.3 423.8 916.1 432 916.5 434.2 C917 436.5 915.9 440.4 914.6 442 C913.2 443.5 906.6 447.5 904.9 447.8 C903.2 448 900.7 446.2 900 443.9 C899.4 441.6 898.7 430.8 899.1 428.4 Z" fill="none" stroke="#000" stroke-width="1.55" stroke-linejoin="round" stroke-linecap="round" />
<ellipse cx="907.8" cy="433.8" rx="3.7" ry="5" transform="rotate(-15 907.8 433.8)" fill="none" stroke="#000" stroke-width="1.55" />
<path d="M885.5 453.6 L904.9 447.8" fill="none" stroke="#000" stroke-width="1.55" stroke-linejoin="round" stroke-linecap="round" />
<path d="M877.8 389.7 C878.5 387.4 887.1 387.1 889.4 387.7 C891.7 388.4 896 393.5 897.1 395.5 C898.3 397.5 900 403.5 899.1 405.2 C898.2 406.9 891.2 409.8 889.4 410 C887.6 410.2 884.9 409.5 883.6 407.1 C882.2 404.7 877.1 391.9 877.8 389.7 Z" fill="none" stroke="#000" stroke-width="1.55" stroke-linejoin="round" stroke-linecap="round" />
<ellipse cx="889.4" cy="397.8" rx="4.1" ry="5.2" transform="rotate(-15 889.4 397.8)" fill="none" stroke="#000" stroke-width="1.55" />
<path d="M864.2 390.6 L889.4 385.8" fill="none" stroke="#000" stroke-width="1.55" stroke-linejoin="round" stroke-linecap="round" />
<path d="M866.2 393.6 C867.5 395.5 871.3 402.3 873.9 405.2 C876.5 408.1 879.1 410.2 881.7 411 C884.2 411.8 888.1 410.2 889.4 410" fill="none" stroke="#000" stroke-width="1.55" stroke-linejoin="round" stroke-linecap="round" />
<path d="M899.1 409 L904.9 421.6" fill="none" stroke="#000" stroke-width="1.55" stroke-linejoin="round" stroke-linecap="round" />
<path d="M902 408.1 L907.8 420.7" fill="none" stroke="#000" stroke-width="1.55" stroke-linejoin="round" stroke-linecap="round" />
<path d="M866.2 397.4 L875.8 395.5" fill="none" stroke="#000" stroke-width="1.0" stroke-linejoin="round" stroke-linecap="round" stroke-dasharray="5 4" />
<path d="M812 405.2 C813.2 403.6 817.9 401.3 819.7 401.3 C821.5 401.3 824.3 406 827.4 405.2 C830.6 404.4 843.6 395.2 846.8 394.5 C850 393.8 852.3 396.5 854.5 399.4 C856.8 402.2 864.2 415.3 866.2 418.7 C868.1 422.1 871 426.4 871 428.4 C871 430.4 866.3 434.1 866.2 436.1 C866.1 438.2 869.8 443.3 870 445.8 C870.3 448.3 869.2 455.9 868.1 457.4 C867 459 861.5 458.5 860.4 459.4 C859.2 460.3 859.6 464.7 858.4 465.2 C857.3 465.6 852.5 464.6 850.7 463.3 C848.9 461.9 845 455 842.9 453.6 C840.9 452.1 834.8 450.6 833.3 450.7 C831.7 450.8 830.7 454.7 829.4 454.5 C828 454.4 822.7 451.6 821.6 449.7 C820.6 447.8 821.6 440.8 820.7 438.1 C819.8 435.4 815.2 429.2 813.9 426.5 C812.5 423.8 809.3 417.3 809.1 414.8 C808.8 412.4 810.7 406.8 812 405.2 Z" fill="none" stroke="#000" stroke-width="1.55" stroke-linejoin="round" stroke-linecap="round" />
<rect x="812.3" y="403.9" width="11" height="16" rx="4.5" transform="rotate(20 817.8 411.9)" fill="none" stroke="#000" stroke-width="1.55"/>
<ellipse cx="834.6" cy="416.8" rx="3.1" ry="5.8" transform="rotate(-10 834.6 416.8)" fill="none" stroke="#000" stroke-width="1.55" />
<ellipse cx="845.3" cy="415.8" rx="2.7" ry="8.7" transform="rotate(-20 845.3 415.8)" fill="none" stroke="#000" stroke-width="1.55" />
<ellipse cx="845.3" cy="415.8" rx="1.4" ry="6.2" transform="rotate(-20 845.3 415.8)" fill="none" stroke="#000" stroke-width="1.0" />
<ellipse cx="863.3" cy="426.5" rx="4.3" ry="5.8" transform="rotate(-15 863.3 426.5)" fill="none" stroke="#000" stroke-width="1.55" />
<ellipse cx="863.3" cy="426.5" rx="2.3" ry="3.5" transform="rotate(-15 863.3 426.5)" fill="none" stroke="#000" stroke-width="1.55" />
<ellipse cx="863.3" cy="448.7" rx="3.9" ry="5.8" transform="rotate(-15 863.3 448.7)" fill="none" stroke="#000" stroke-width="1.55" />
<ellipse cx="825.5" cy="447.8" rx="2.9" ry="4.1" transform="rotate(-15 825.5 447.8)" fill="none" stroke="#000" stroke-width="1.55" />
<ellipse cx="825.5" cy="447.8" rx="1.5" ry="2.3" transform="rotate(-15 825.5 447.8)" fill="none" stroke="#000" stroke-width="1.0" />
<ellipse cx="833.6" cy="436.5" rx="3.9" ry="12" transform="rotate(-50 833.6 436.5)" fill="none" stroke="#000" stroke-width="1.55" />
<path d="M843.9 431.3 C845.1 430.1 853.1 427.9 854.5 428.4 C856 428.9 858.3 434.6 858.4 436.1 C858.5 437.7 855.2 442.5 855.5 443.9 C855.8 445.2 861 448.5 861.3 449.7 C861.6 450.9 859.4 455 858.4 455.5 C857.5 456 852.7 455.5 851.6 454.5 C850.6 453.6 848.6 447.3 847.8 445.8 C846.9 444.4 843.3 441.5 842.9 440 C842.5 438.6 842.7 432.5 843.9 431.3 Z" fill="none" stroke="#000" stroke-width="1.55" stroke-linejoin="round" stroke-linecap="round" />
<path d="M828.4 405.2 L846.8 397.4" fill="none" stroke="#000" stroke-width="1.55" stroke-linejoin="round" stroke-linecap="round" />
<path d="M750 395.5 C751.9 397.1 758.4 401.3 761.6 405.2 C764.8 409 765.5 414.8 769.4 418.7 C773.2 422.6 776.1 423.7 784.8 428.4 C793.6 433.1 815.5 443.7 821.6 446.8" fill="none" stroke="#000" stroke-width="1.55" stroke-linejoin="round" stroke-linecap="round" />
<path d="M804.2 478.7 L839.1 457.4" fill="none" stroke="#000" stroke-width="1.55" stroke-linejoin="round" stroke-linecap="round" />
<path d="M825.5 485.5 L850.7 471" fill="none" stroke="#000" stroke-width="1.55" stroke-linejoin="round" stroke-linecap="round" />
<text x="124.5" y="95" font-size="20" textLength="199" lengthAdjust="spacingAndGlyphs" stroke="#000" stroke-width="0.35">© 2005 Polaris Sales Inc.</text>
<text x="0" y="0" font-size="19.5" text-anchor="middle" stroke="#000" stroke-width="0.4" transform="translate(44 301) scale(0.9 1)">1</text>
<text x="0" y="0" font-size="19.5" text-anchor="middle" stroke="#000" stroke-width="0.4" transform="translate(214.5 290) scale(0.9 1)">2</text>
<text x="0" y="0" font-size="19.5" text-anchor="middle" stroke="#000" stroke-width="0.4" transform="translate(345.5 190) scale(0.9 1)">3</text>
<text x="0" y="0" font-size="19.5" text-anchor="middle" stroke="#000" stroke-width="0.4" transform="translate(458 326) scale(0.9 1)">4</text>
<text x="0" y="0" font-size="19.5" text-anchor="middle" stroke="#000" stroke-width="0.4" transform="translate(560.5 151) scale(0.9 1)">5</text>
<text x="0" y="0" font-size="19.5" text-anchor="middle" stroke="#000" stroke-width="0.4" transform="translate(630 59) scale(0.9 1)">2</text>
<text x="0" y="0" font-size="19.5" text-anchor="middle" stroke="#000" stroke-width="0.4" transform="translate(948 45) scale(0.9 1)">6</text>
<text x="0" y="0" font-size="19.5" text-anchor="middle" stroke="#000" stroke-width="0.4" transform="translate(963 101) scale(0.9 1)">7</text>
<text x="0" y="0" font-size="19.5" text-anchor="middle" stroke="#000" stroke-width="0.4" transform="translate(981.5 283) scale(0.9 1)">8</text>
<text x="0" y="0" font-size="19.5" text-anchor="middle" stroke="#000" stroke-width="0.4" transform="translate(998 346) scale(0.9 1)">9</text>
<text x="0" y="0" font-size="19.5" text-anchor="middle" stroke="#000" stroke-width="0.4" transform="translate(992.5 407) scale(0.9 1)">10</text>
<text x="0" y="0" font-size="19.5" text-anchor="middle" stroke="#000" stroke-width="0.4" transform="translate(595.5 544) scale(0.9 1)">11</text>
<text x="0" y="0" font-size="19.5" text-anchor="middle" stroke="#000" stroke-width="0.4" transform="translate(614.5 607) scale(0.9 1)">12</text>
<text x="0" y="0" font-size="19.5" text-anchor="middle" stroke="#000" stroke-width="0.4" transform="translate(807.5 618) scale(0.9 1)">5</text>
<text x="0" y="0" font-size="19.5" text-anchor="middle" stroke="#000" stroke-width="0.4" transform="translate(839 812.5) scale(0.9 1)">13</text>
<text x="0" y="0" font-size="19.5" text-anchor="middle" stroke="#000" stroke-width="0.4" transform="translate(801 837) scale(0.9 1)">14</text>
<text x="0" y="0" font-size="19.5" text-anchor="middle" stroke="#000" stroke-width="0.4" transform="translate(760.5 863) scale(0.9 1)">15</text>
<text x="0" y="0" font-size="19.5" text-anchor="middle" stroke="#000" stroke-width="0.4" transform="translate(720.5 892) scale(0.9 1)">16</text>
<text x="0" y="0" font-size="19.5" text-anchor="middle" stroke="#000" stroke-width="0.4" transform="translate(302 878) scale(0.9 1)">17</text>
<text x="0" y="0" font-size="19.5" text-anchor="middle" stroke="#000" stroke-width="0.4" transform="translate(211.5 889) scale(0.9 1)">18</text>
<text x="0" y="0" font-size="19.5" text-anchor="middle" stroke="#000" stroke-width="0.4" transform="translate(170.5 909) scale(0.9 1)">19</text>
<text x="0" y="0" font-size="19.5" text-anchor="middle" stroke="#000" stroke-width="0.4" transform="translate(83 758) scale(0.9 1)">20</text>
<text x="0" y="0" font-size="19.5" text-anchor="middle" stroke="#000" stroke-width="0.4" transform="translate(216.5 701) scale(0.9 1)">21</text>
<text x="0" y="0" font-size="19.5" text-anchor="middle" stroke="#000" stroke-width="0.4" transform="translate(44 634) scale(0.9 1)">22</text>
<text x="0" y="0" font-size="19.5" text-anchor="middle" stroke="#000" stroke-width="0.4" transform="translate(33 463) scale(0.9 1)">23</text>
<ellipse cx="942" cy="356.5" rx="13" ry="13" transform="rotate(0 942 356.5)" fill="#fff" stroke="#000" stroke-width="1.3" />
<text x="942" y="363.1" font-size="18.5" font-weight="bold" text-anchor="middle">A</text>
<ellipse cx="593" cy="884.5" rx="13" ry="13" transform="rotate(0 593 884.5)" fill="#fff" stroke="#000" stroke-width="1.3" />
<text x="593" y="891.1" font-size="18.5" font-weight="bold" text-anchor="middle">A</text>
<line x1="49" y1="309" x2="69.5" y2="341.5" stroke="#000" stroke-width="1.35"/>
<line x1="220" y1="298" x2="240" y2="334" stroke="#000" stroke-width="1.35"/>
<line x1="350" y1="196" x2="367" y2="226" stroke="#000" stroke-width="1.35"/>
<line x1="457" y1="332" x2="446" y2="381" stroke="#000" stroke-width="1.35"/>
<line x1="563.5" y1="155" x2="587" y2="198.5" stroke="#000" stroke-width="1.35"/>
<line x1="633" y1="64.5" x2="651" y2="95.5" stroke="#000" stroke-width="1.35"/>
<line x1="940" y1="44.5" x2="920" y2="70.5" stroke="#000" stroke-width="1.35"/>
<line x1="958.5" y1="104" x2="930" y2="136" stroke="#000" stroke-width="1.35"/>
<line x1="972.5" y1="282" x2="940.5" y2="315" stroke="#000" stroke-width="1.35"/>
<line x1="988.7" y1="343.5" x2="954.7" y2="377.5" stroke="#000" stroke-width="1.35"/>
<line x1="983" y1="400.5" x2="962.6" y2="418.7" stroke="#000" stroke-width="1.35"/>
<line x1="780" y1="582.5" x2="798.5" y2="600" stroke="#000" stroke-width="1.35"/>
<line x1="809" y1="775" x2="827" y2="793" stroke="#000" stroke-width="1.35"/>
<line x1="769.5" y1="799.5" x2="787" y2="817" stroke="#000" stroke-width="1.35"/>
<line x1="725.5" y1="814" x2="746" y2="843" stroke="#000" stroke-width="1.35"/>
<line x1="685" y1="841.5" x2="705" y2="869" stroke="#000" stroke-width="1.35"/>
<line x1="267.5" y1="832.5" x2="287.5" y2="858.5" stroke="#000" stroke-width="1.35"/>
<line x1="180" y1="844" x2="196" y2="869" stroke="#000" stroke-width="1.35"/>
<line x1="139.5" y1="860" x2="158" y2="888" stroke="#000" stroke-width="1.35"/>
<line x1="95" y1="755" x2="136" y2="767" stroke="#000" stroke-width="1.35"/>
<line x1="228.5" y1="700" x2="266" y2="730" stroke="#000" stroke-width="1.35"/>
<line x1="60" y1="630" x2="100" y2="642" stroke="#000" stroke-width="1.35"/>
<line x1="46" y1="461" x2="80" y2="473" stroke="#000" stroke-width="1.35"/>
<line x1="546" y1="598.5" x2="597.5" y2="598.5" stroke="#000" stroke-width="1.35"/>
<path d="M526.5 514 L587 520 L630 449" fill="none" stroke="#000" stroke-width="1.35" stroke-linejoin="round" stroke-linecap="round" />
<path d="M85 347 L112 331.5 L113.5 446 L205 396.5" fill="none" stroke="#000" stroke-width="1.35" stroke-linejoin="round" stroke-linecap="round" />
<line x1="97" y1="468" x2="221" y2="395" stroke="#000" stroke-width="1.35"/>
<line x1="352.5" y1="242" x2="334" y2="246" stroke="#000" stroke-width="1.35"/>
<path d="M322 248.5 L312.5 251 L337 306" fill="none" stroke="#000" stroke-width="1.35" stroke-linejoin="round" stroke-linecap="round" />
<line x1="339.5" y1="311" x2="342" y2="317" stroke="#000" stroke-width="1.35"/>
<path d="M344.5 322 L380.5 400 L350 406" fill="none" stroke="#000" stroke-width="1.35" stroke-linejoin="round" stroke-linecap="round" />
<line x1="602" y1="197.5" x2="640" y2="177.5" stroke="#000" stroke-width="1.35"/>
<line x1="857.5" y1="109" x2="819" y2="130" stroke="#000" stroke-width="1.35"/>
<line x1="887.5" y1="162.5" x2="846.5" y2="185" stroke="#000" stroke-width="1.35"/>
<line x1="901.5" y1="332" x2="874" y2="339" stroke="#000" stroke-width="1.35"/>
<line x1="927.8" y1="364" x2="905" y2="376" stroke="#000" stroke-width="1.35"/>
<line x1="901" y1="378" x2="897" y2="380" stroke="#000" stroke-width="1.35"/>
<line x1="893" y1="382.5" x2="868" y2="395.5" stroke="#000" stroke-width="1.35"/>
<line x1="916.7" y1="391.8" x2="890" y2="397" stroke="#000" stroke-width="1.35"/>
<line x1="924.6" y1="431.3" x2="907" y2="434.5" stroke="#000" stroke-width="1.35"/>
<line x1="476" y1="401.5" x2="590" y2="335.5" stroke="#000" stroke-width="1.35"/>
<line x1="594" y1="333.2" x2="599" y2="330.3" stroke="#000" stroke-width="1.35"/>
<line x1="603" y1="328" x2="640" y2="306.5" stroke="#000" stroke-width="1.35"/>
<line x1="645" y1="303.8" x2="649" y2="301.5" stroke="#000" stroke-width="1.35"/>
<line x1="714.5" y1="254.5" x2="751" y2="240" stroke="#000" stroke-width="1.35"/>
<line x1="674" y1="413.5" x2="782.5" y2="350" stroke="#000" stroke-width="1.35"/>
<line x1="508.5" y1="606" x2="489" y2="617.5" stroke="#000" stroke-width="1.35"/>
<line x1="845" y1="494.5" x2="631" y2="615.4" stroke="#000" stroke-width="1.35"/>
<line x1="625.5" y1="618.5" x2="621" y2="621" stroke="#000" stroke-width="1.35"/>
<line x1="615.5" y1="624.2" x2="515" y2="681" stroke="#000" stroke-width="1.35"/>
<path d="M808.7 520 L808.7 558.5 L787.5 571" fill="none" stroke="#000" stroke-width="1.35" stroke-linejoin="round" stroke-linecap="round" />
<line x1="126.5" y1="635" x2="237" y2="573" stroke="#000" stroke-width="1.35"/>
<line x1="300" y1="727.5" x2="345" y2="702.5" stroke="#000" stroke-width="1.35"/>
<path d="M221 725 L233.5 720" fill="none" stroke="#000" stroke-width="1.35" stroke-linejoin="round" stroke-linecap="round" />
<path d="M235.5 723 L240 729" fill="none" stroke="#000" stroke-width="1.35" stroke-linejoin="round" stroke-linecap="round" />
<path d="M243 733.5 L257.5 752.5 L266 749" fill="none" stroke="#000" stroke-width="1.35" stroke-linejoin="round" stroke-linecap="round" />
<line x1="183" y1="824" x2="208" y2="810" stroke="#000" stroke-width="1.35"/>
<line x1="212" y1="807.8" x2="216" y2="805.5" stroke="#000" stroke-width="1.35"/>
<line x1="220" y1="803.3" x2="325" y2="746" stroke="#000" stroke-width="1.35"/>
<line x1="332" y1="789" x2="430" y2="735.5" stroke="#000" stroke-width="1.35"/>
<line x1="605" y1="876.5" x2="628" y2="864.2" stroke="#000" stroke-width="1.35"/>
<line x1="632" y1="862" x2="636" y2="859.9" stroke="#000" stroke-width="1.35"/>
<line x1="640" y1="857.7" x2="667.5" y2="843" stroke="#000" stroke-width="1.35"/>
<path d="M71.7 366.3 L83.5 361.8 A6.5 10.5 -20.9 0 0 76.1 342.2 L64.3 346.7 Z" fill="#fff" stroke="#000" stroke-width="1.5" stroke-linejoin="round" stroke-linecap="round" />
<ellipse cx="68" cy="356.5" rx="6.5" ry="10.5" transform="rotate(-20.9 68 356.5)" fill="#fff" stroke="#000" stroke-width="1.5" />
<ellipse cx="68" cy="356.5" rx="4" ry="6.5" transform="rotate(-20.9 68 356.5)" fill="#fff" stroke="#000" stroke-width="1.5" />
<path d="M377.4 225.3 L364.4 228.8 A7 10 164.9 0 0 369.6 248.2 L382.6 244.7 Z" fill="#fff" stroke="#000" stroke-width="1.5" stroke-linejoin="round" stroke-linecap="round" />
<ellipse cx="380" cy="235" rx="7" ry="10" transform="rotate(164.9 380 235)" fill="#fff" stroke="#000" stroke-width="1.5" />
<ellipse cx="380" cy="235" rx="4.3" ry="6.2" transform="rotate(164.9 380 235)" fill="#fff" stroke="#000" stroke-width="1.5" />
<ellipse cx="380.6" cy="235" rx="3.6" ry="5.4" transform="rotate(-14 380.6 235)" fill="none" stroke="#000" stroke-width="1.5" />
<path d="M84.8 476.9 L96.3 472.4 A2.2 3.6 -21.4 0 0 93.7 465.6 L82.2 470.1 Z" fill="#fff" stroke="#000" stroke-width="1.5" stroke-linejoin="round" stroke-linecap="round" />
<ellipse cx="83.5" cy="473.5" rx="2.2" ry="3.6" transform="rotate(-21.4 83.5 473.5)" fill="#fff" stroke="#000" stroke-width="1.5" />
<path d="M586.1 209.7 L597.6 204.2 A2.2 3.6 -25.6 0 0 594.4 197.8 L582.9 203.3 Z" fill="#fff" stroke="#000" stroke-width="1.5" stroke-linejoin="round" stroke-linecap="round" />
<ellipse cx="584.5" cy="206.5" rx="2.2" ry="3.6" transform="rotate(-25.6 584.5 206.5)" fill="#fff" stroke="#000" stroke-width="1.5" />
<path d="M774.1 582.7 L786.1 576.7 A2.2 3.6 -26.6 0 0 782.9 570.3 L770.9 576.3 Z" fill="#fff" stroke="#000" stroke-width="1.5" stroke-linejoin="round" stroke-linecap="round" />
<ellipse cx="772.5" cy="579.5" rx="2.2" ry="3.6" transform="rotate(-26.6 772.5 579.5)" fill="#fff" stroke="#000" stroke-width="1.5" />
<path d="M916.1 87.6 L920.1 85.5 A5 10 -27.5 0 0 910.9 67.8 L906.9 69.9 Z" fill="#fff" stroke="#000" stroke-width="1.7249999999999999" stroke-linejoin="round" stroke-linecap="round" />
<ellipse cx="911.5" cy="78.7" rx="5" ry="10" transform="rotate(-27.5 911.5 78.7)" fill="#fff" stroke="#000" stroke-width="1.7249999999999999" />
<line x1="913.3" y1="82.3" x2="921.3" y2="78.1" stroke="#000" stroke-width="1.38"/>
<line x1="909.6" y1="75.2" x2="917.6" y2="71" stroke="#000" stroke-width="1.38"/>
<ellipse cx="911.5" cy="78.7" rx="6.2" ry="12.5" transform="rotate(-27.5 911.5 78.7)" fill="#fff" stroke="#000" stroke-width="1.7249999999999999" />
<path d="M901.7 69.7 L905.7 67.6 L917.3 89.8 L913.3 91.9 Z" fill="#fff" stroke="none" stroke-width="0" stroke-linejoin="round" stroke-linecap="round" />
<line x1="901.7" y1="69.7" x2="905.7" y2="67.6" stroke="#000" stroke-width="1.7249999999999999"/>
<line x1="913.3" y1="91.9" x2="917.3" y2="89.8" stroke="#000" stroke-width="1.7249999999999999"/>
<ellipse cx="907.5" cy="80.8" rx="6.2" ry="12.5" transform="rotate(-27.5 907.5 80.8)" fill="#fff" stroke="#000" stroke-width="1.7249999999999999" />
<path d="M910.1 85.8 L862.6 110.5 A2.8 5.6 -27.5 0 1 857.4 100.5 L904.9 75.8 Z" fill="#fff" stroke="#000" stroke-width="1.7249999999999999" stroke-linejoin="round" stroke-linecap="round" />
<path d="M867.4 108 A2.8 5.6 -27.5 0 1 862.2 98" fill="none" stroke="#000" stroke-width="1.38" stroke-linejoin="round" stroke-linecap="round" />
<path d="M872.2 105.5 A2.8 5.6 -27.5 0 1 867 95.5" fill="none" stroke="#000" stroke-width="1.38" stroke-linejoin="round" stroke-linecap="round" />
<path d="M877 103 A2.8 5.6 -27.5 0 1 871.8 93.1" fill="none" stroke="#000" stroke-width="1.38" stroke-linejoin="round" stroke-linecap="round" />
<path d="M881.7 100.5 A2.8 5.6 -27.5 0 1 876.6 90.6" fill="none" stroke="#000" stroke-width="1.38" stroke-linejoin="round" stroke-linecap="round" />
<path d="M886.5 98 A2.8 5.6 -27.5 0 1 881.4 88.1" fill="none" stroke="#000" stroke-width="1.38" stroke-linejoin="round" stroke-linecap="round" />
<path d="M891.3 95.5 A2.8 5.6 -27.5 0 1 886.2 85.6" fill="none" stroke="#000" stroke-width="1.38" stroke-linejoin="round" stroke-linecap="round" />
<path d="M896.1 93 A2.8 5.6 -27.5 0 1 891 83.1" fill="none" stroke="#000" stroke-width="1.38" stroke-linejoin="round" stroke-linecap="round" />
<path d="M900.9 90.5 A2.8 5.6 -27.5 0 1 895.7 80.6" fill="none" stroke="#000" stroke-width="1.38" stroke-linejoin="round" stroke-linecap="round" />
<path d="M905.7 88 A2.8 5.6 -27.5 0 1 900.5 78.1" fill="none" stroke="#000" stroke-width="1.38" stroke-linejoin="round" stroke-linecap="round" />
<ellipse cx="860" cy="105.5" rx="2.8" ry="5.6" transform="rotate(-27.5 860 105.5)" fill="#fff" stroke="#000" stroke-width="1.7249999999999999" />
<ellipse cx="908.7" cy="150.1" rx="24.2" ry="32.3" transform="rotate(-17 908.7 150.1)" fill="#fff" stroke="#000" stroke-width="2.0" />
<path d="M888.1 124.5 L896.5 120.3 L920.9 179.9 L912.5 184.1 Z" fill="#fff" stroke="none" stroke-width="0" stroke-linejoin="round" stroke-linecap="round" />
<line x1="888.1" y1="124.5" x2="896.5" y2="120.3" stroke="#000" stroke-width="2.0"/>
<line x1="912.5" y1="184.1" x2="920.9" y2="179.9" stroke="#000" stroke-width="2.0"/>
<ellipse cx="905.3" cy="151.8" rx="24.2" ry="32.3" transform="rotate(-17 905.3 151.8)" fill="none" stroke="#000" stroke-width="2.0" />
<ellipse cx="900.3" cy="154.3" rx="24.2" ry="32.3" transform="rotate(-17 900.3 154.3)" fill="#fff" stroke="#000" stroke-width="2.0" />
<ellipse cx="901.6" cy="153.7" rx="20.8" ry="28.4" transform="rotate(-17 901.6 153.7)" fill="none" stroke="#000" stroke-width="1.6" />
<ellipse cx="902.8" cy="153" rx="17.4" ry="24.5" transform="rotate(-17 902.8 153)" fill="none" stroke="#000" stroke-width="2.0" />
<ellipse cx="904.1" cy="152.4" rx="14.5" ry="21.3" transform="rotate(-17 904.1 152.4)" fill="none" stroke="#000" stroke-width="1.6" />
<ellipse cx="905.3" cy="151.8" rx="12.6" ry="18.7" transform="rotate(-17 905.3 151.8)" fill="none" stroke="#000" stroke-width="1.8" stroke-dasharray="61.4 48.4"/>
<path d="M933.2 314.7 L903.3 322.8 A4.3 6.4 164.8 0 0 906.7 335.2 L936.6 327.1 Z" fill="#fff" stroke="#000" stroke-width="1.5" stroke-linejoin="round" stroke-linecap="round" />
<ellipse cx="934.9" cy="320.9" rx="4.3" ry="6.4" transform="rotate(164.8 934.9 320.9)" fill="#fff" stroke="#000" stroke-width="1.5" />
<path d="M932.9 313.7 L923 316.4 A5 7.5 164.7 0 0 927 330.8 L936.9 328.1 Z" fill="#fff" stroke="#000" stroke-width="1.5" stroke-linejoin="round" stroke-linecap="round" />
<ellipse cx="934.9" cy="320.9" rx="5" ry="7.5" transform="rotate(164.7 934.9 320.9)" fill="#fff" stroke="#000" stroke-width="1.5" />
<ellipse cx="934.9" cy="320.9" rx="2.9" ry="4.3" transform="rotate(164.7 934.9 320.9)" fill="#fff" stroke="#000" stroke-width="1.5" />
<path d="M924.5 382.5 L916.1 385 A4 8.4 163.4 0 0 920.9 401.1 L929.3 398.6 Z" fill="#fff" stroke="#000" stroke-width="1.6" stroke-linejoin="round" stroke-linecap="round" />
<ellipse cx="926.9" cy="390.6" rx="4" ry="8.4" transform="rotate(163.4 926.9 390.6)" fill="#fff" stroke="#000" stroke-width="1.6" />
<line x1="925.3" y1="393.7" x2="916.4" y2="396.5" stroke="#000" stroke-width="1.2800000000000002"/>
<line x1="922.8" y1="387" x2="915.4" y2="389.8" stroke="#000" stroke-width="1.2800000000000002"/>
<path d="M928.3 382.5 L924.8 383.5 A3.4 7.4 163.4 0 0 929 397.7 L932.5 396.6 Z" fill="#fff" stroke="#000" stroke-width="1.6" stroke-linejoin="round" stroke-linecap="round" />
<ellipse cx="930.4" cy="389.6" rx="3.4" ry="7.4" transform="rotate(163.4 930.4 389.6)" fill="#fff" stroke="#000" stroke-width="1.6" />
<path d="M932.1 381.3 L928.6 382.4 A3.4 7.4 163.4 0 0 932.8 396.5 L936.3 395.5 Z" fill="#fff" stroke="#000" stroke-width="1.6" stroke-linejoin="round" stroke-linecap="round" />
<ellipse cx="934.2" cy="388.4" rx="3.4" ry="7.4" transform="rotate(163.4 934.2 388.4)" fill="#fff" stroke="#000" stroke-width="1.6" />
<path d="M935.9 380.2 L932.4 381.2 A3.4 7.4 163.4 0 0 936.7 395.4 L940.2 394.4 Z" fill="#fff" stroke="#000" stroke-width="1.6" stroke-linejoin="round" stroke-linecap="round" />
<ellipse cx="938" cy="387.3" rx="3.4" ry="7.4" transform="rotate(163.4 938 387.3)" fill="#fff" stroke="#000" stroke-width="1.6" />
<path d="M939.7 379 L936.3 380.1 A3.4 7.4 163.4 0 0 940.5 394.3 L944 393.2 Z" fill="#fff" stroke="#000" stroke-width="1.6" stroke-linejoin="round" stroke-linecap="round" />
<ellipse cx="941.9" cy="386.1" rx="3.4" ry="7.4" transform="rotate(163.4 941.9 386.1)" fill="#fff" stroke="#000" stroke-width="1.6" />
<path d="M943.2 378 L939.7 379 A3.4 7.4 163.4 0 0 944 393.2 L947.5 392.2 Z" fill="#fff" stroke="#000" stroke-width="1.6" stroke-linejoin="round" stroke-linecap="round" />
<ellipse cx="945.3" cy="385.1" rx="3.4" ry="7.4" transform="rotate(163.4 945.3 385.1)" fill="#fff" stroke="#000" stroke-width="1.6" />
<path d="M949.3 378.1 L943.7 379.7 A3.4 5.6 163.4 0 0 946.9 390.4 L952.5 388.8 Z" fill="#fff" stroke="#000" stroke-width="1.6" stroke-linejoin="round" stroke-linecap="round" />
<ellipse cx="950.9" cy="383.4" rx="3.4" ry="5.6" transform="rotate(163.4 950.9 383.4)" fill="#fff" stroke="#000" stroke-width="1.6" />
<ellipse cx="950.9" cy="383.4" rx="1.7" ry="2.8" transform="rotate(163.4 950.9 383.4)" fill="#fff" stroke="#000" stroke-width="1.6" />
<path d="M933 420 L924.7 422.1 A4 8.4 165.8 0 0 928.8 438.4 L937.1 436.3 Z" fill="#fff" stroke="#000" stroke-width="1.6" stroke-linejoin="round" stroke-linecap="round" />
<ellipse cx="935" cy="428.2" rx="4" ry="8.4" transform="rotate(165.8 935 428.2)" fill="#fff" stroke="#000" stroke-width="1.6" />
<line x1="933.3" y1="431.3" x2="924.5" y2="433.6" stroke="#000" stroke-width="1.2800000000000002"/>
<line x1="931.1" y1="424.5" x2="923.8" y2="426.8" stroke="#000" stroke-width="1.2800000000000002"/>
<path d="M936.7 420.1 L933.2 421 A3.4 7.4 165.8 0 0 936.8 435.3 L940.3 434.5 Z" fill="#fff" stroke="#000" stroke-width="1.6" stroke-linejoin="round" stroke-linecap="round" />
<ellipse cx="938.5" cy="427.3" rx="3.4" ry="7.4" transform="rotate(165.8 938.5 427.3)" fill="#fff" stroke="#000" stroke-width="1.6" />
<path d="M940.5 419.1 L937 420 A3.4 7.4 165.8 0 0 940.6 434.4 L944.1 433.5 Z" fill="#fff" stroke="#000" stroke-width="1.6" stroke-linejoin="round" stroke-linecap="round" />
<ellipse cx="942.3" cy="426.3" rx="3.4" ry="7.4" transform="rotate(165.8 942.3 426.3)" fill="#fff" stroke="#000" stroke-width="1.6" />
<path d="M944.2 418.2 L940.8 419.1 A3.4 7.4 165.8 0 0 944.4 433.4 L947.9 432.5 Z" fill="#fff" stroke="#000" stroke-width="1.6" stroke-linejoin="round" stroke-linecap="round" />
<ellipse cx="946.1" cy="425.4" rx="3.4" ry="7.4" transform="rotate(165.8 946.1 425.4)" fill="#fff" stroke="#000" stroke-width="1.6" />
<path d="M948 417.2 L944.6 418.1 A3.4 7.4 165.8 0 0 948.2 432.5 L951.7 431.6 Z" fill="#fff" stroke="#000" stroke-width="1.6" stroke-linejoin="round" stroke-linecap="round" />
<ellipse cx="949.9" cy="424.4" rx="3.4" ry="7.4" transform="rotate(165.8 949.9 424.4)" fill="#fff" stroke="#000" stroke-width="1.6" />
<path d="M951.5 416.4 L948 417.2 A3.4 7.4 165.8 0 0 951.7 431.6 L955.1 430.7 Z" fill="#fff" stroke="#000" stroke-width="1.6" stroke-linejoin="round" stroke-linecap="round" />
<ellipse cx="953.3" cy="423.5" rx="3.4" ry="7.4" transform="rotate(165.8 953.3 423.5)" fill="#fff" stroke="#000" stroke-width="1.6" />
<path d="M957.5 416.7 L951.9 418.1 A3.4 5.6 165.8 0 0 954.7 429 L960.2 427.6 Z" fill="#fff" stroke="#000" stroke-width="1.6" stroke-linejoin="round" stroke-linecap="round" />
<ellipse cx="958.8" cy="422.1" rx="3.4" ry="5.6" transform="rotate(165.8 958.8 422.1)" fill="#fff" stroke="#000" stroke-width="1.6" />
<ellipse cx="958.8" cy="422.1" rx="1.7" ry="2.8" transform="rotate(165.8 958.8 422.1)" fill="#fff" stroke="#000" stroke-width="1.6" />
<path d="M805.4 772.2 L810.6 769.3 A4.4 9.8 -28.7 0 0 801.2 752 L795.9 754.9 Z" fill="#fff" stroke="#000" stroke-width="1.6500000000000001" stroke-linejoin="round" stroke-linecap="round" />
<ellipse cx="800.6" cy="763.6" rx="4.4" ry="9.8" transform="rotate(-28.7 800.6 763.6)" fill="#fff" stroke="#000" stroke-width="1.6500000000000001" />
<line x1="802.5" y1="767" x2="811.3" y2="762.2" stroke="#000" stroke-width="1.3200000000000003"/>
<line x1="798.7" y1="760.1" x2="807.5" y2="755.3" stroke="#000" stroke-width="1.3200000000000003"/>
<ellipse cx="800.6" cy="763.6" rx="5.5" ry="12.3" transform="rotate(-28.7 800.6 763.6)" fill="#fff" stroke="#000" stroke-width="1.6500000000000001" />
<path d="M792.1 754.2 L794.7 752.8 L806.5 774.3 L803.9 775.8 Z" fill="#fff" stroke="none" stroke-width="0" stroke-linejoin="round" stroke-linecap="round" />
<line x1="792.1" y1="754.2" x2="794.7" y2="752.8" stroke="#000" stroke-width="1.6500000000000001"/>
<line x1="803.9" y1="775.8" x2="806.5" y2="774.3" stroke="#000" stroke-width="1.6500000000000001"/>
<ellipse cx="798" cy="765" rx="5.5" ry="12.3" transform="rotate(-28.7 798 765)" fill="#fff" stroke="#000" stroke-width="1.6500000000000001" />
<path d="M801.6 771.6 L786.1 780.1 A3.4 7.5 -28.7 0 1 778.9 766.9 L794.4 758.4 Z" fill="#fff" stroke="#000" stroke-width="1.6500000000000001" stroke-linejoin="round" stroke-linecap="round" />
<path d="M789.4 778.2 A3.4 7.5 -28.7 0 1 782.2 765.1" fill="none" stroke="#000" stroke-width="1.3200000000000003" stroke-linejoin="round" stroke-linecap="round" />
<path d="M792.8 776.4 A3.4 7.5 -28.7 0 1 785.6 763.3" fill="none" stroke="#000" stroke-width="1.3200000000000003" stroke-linejoin="round" stroke-linecap="round" />
<path d="M796.1 774.6 A3.4 7.5 -28.7 0 1 788.9 761.4" fill="none" stroke="#000" stroke-width="1.3200000000000003" stroke-linejoin="round" stroke-linecap="round" />
<ellipse cx="782.5" cy="773.5" rx="3.4" ry="7.5" transform="rotate(-28.7 782.5 773.5)" fill="#fff" stroke="#000" stroke-width="1.6500000000000001" />
<ellipse cx="764" cy="788.9" rx="10.6" ry="12.6" transform="rotate(-20 764 788.9)" fill="#fff" stroke="#000" stroke-width="2.0999999999999996" />
<path d="M757.9 777.8 L759.4 777.2 L768.6 800.6 L767.1 801.2 Z" fill="#fff" stroke="none" stroke-width="0" stroke-linejoin="round" stroke-linecap="round" />
<line x1="757.9" y1="777.8" x2="759.4" y2="777.2" stroke="#000" stroke-width="2.0999999999999996"/>
<line x1="767.1" y1="801.2" x2="768.6" y2="800.6" stroke="#000" stroke-width="2.0999999999999996"/>
<ellipse cx="762.5" cy="789.5" rx="10.6" ry="12.6" transform="rotate(-20 762.5 789.5)" fill="#fff" stroke="#000" stroke-width="2.0999999999999996" />
<ellipse cx="763" cy="789.8" rx="4.6" ry="5.6" transform="rotate(-20 763 789.8)" fill="none" stroke="#000" stroke-width="1.9500000000000002" />
<ellipse cx="763.8" cy="789.6" rx="3" ry="4" transform="rotate(-20 763.8 789.6)" fill="none" stroke="#000" stroke-width="1.5" />
<ellipse cx="707.5" cy="819.5" rx="1.7" ry="3.4" transform="rotate(-25 707.5 819.5)" fill="none" stroke="#000" stroke-width="1.0" />
<ellipse cx="710.7" cy="818" rx="1.7" ry="3.4" transform="rotate(-25 710.7 818)" fill="none" stroke="#000" stroke-width="1.0" />
<ellipse cx="713.8" cy="816.6" rx="1.7" ry="3.4" transform="rotate(-25 713.8 816.6)" fill="none" stroke="#000" stroke-width="1.0" />
<ellipse cx="717" cy="815.1" rx="1.7" ry="3.4" transform="rotate(-25 717 815.1)" fill="none" stroke="#000" stroke-width="1.0" />
<ellipse cx="720.2" cy="813.6" rx="1.7" ry="3.4" transform="rotate(-25 720.2 813.6)" fill="none" stroke="#000" stroke-width="1.0" />
<ellipse cx="723.3" cy="812.2" rx="1.7" ry="3.4" transform="rotate(-25 723.3 812.2)" fill="none" stroke="#000" stroke-width="1.0" />
<ellipse cx="726.5" cy="810.7" rx="1.7" ry="3.4" transform="rotate(-25 726.5 810.7)" fill="none" stroke="#000" stroke-width="1.0" />
<ellipse cx="729.7" cy="809.2" rx="1.7" ry="3.4" transform="rotate(-25 729.7 809.2)" fill="none" stroke="#000" stroke-width="1.0" />
<ellipse cx="732.8" cy="807.8" rx="1.7" ry="3.4" transform="rotate(-25 732.8 807.8)" fill="none" stroke="#000" stroke-width="1.0" />
<ellipse cx="736" cy="806.3" rx="1.7" ry="3.4" transform="rotate(-25 736 806.3)" fill="none" stroke="#000" stroke-width="1.0" />
<path d="M676.4 844.1 L688.9 839.1 A3 5 -21.8 0 0 685.1 829.9 L672.6 834.9 Z" fill="#fff" stroke="#000" stroke-width="1.5" stroke-linejoin="round" stroke-linecap="round" />
<ellipse cx="674.5" cy="839.5" rx="3" ry="5" transform="rotate(-21.8 674.5 839.5)" fill="#fff" stroke="#000" stroke-width="1.5" />
<path d="M688.8 837.7 L692.3 836.4 A2.4 3.6 -20.4 0 0 689.7 829.6 L686.2 830.9 Z" fill="#fff" stroke="#000" stroke-width="1.5" stroke-linejoin="round" stroke-linecap="round" />
<ellipse cx="687.5" cy="834.3" rx="2.4" ry="3.6" transform="rotate(-20.4 687.5 834.3)" fill="#fff" stroke="#000" stroke-width="1.5" />
<path d="M688 830.5 Q694.5 829 693.5 833 Q692.5 836.5 689.5 837.5" fill="none" stroke="#000" stroke-width="1.5" stroke-linejoin="round" stroke-linecap="round" />
<line x1="680" y1="832.5" x2="684.5" y2="841" stroke="#000" stroke-width="1.2000000000000002"/>
<g transform="translate(146.5 852.7) rotate(-42.6)" style="mix-blend-mode:multiply" font-size="82" font-weight="bold">
<text x="11" textLength="210" lengthAdjust="spacingAndGlyphs" stroke="#c9c9c9" stroke-width="2" stroke-linejoin="round" style="fill:#dbdbdb">www.</text>
<text x="221" textLength="813" lengthAdjust="spacingAndGlyphs" stroke="#c9c9c9" stroke-width="2" stroke-linejoin="round" style="fill:#dbdbdb">polarisersatzteile.de</text>
</g>
<ellipse cx="446.5" cy="417.3" rx="30.7" ry="40.4" transform="rotate(-19 446.5 417.3)" fill="#fff" stroke="#000" stroke-width="1.5" />
<path d="M417.9 386.3 L430.9 380.1 L462.1 454.5 L449.1 460.7 Z" fill="#fff" stroke="none" stroke-width="0" stroke-linejoin="round" stroke-linecap="round" />
<line x1="417.9" y1="386.3" x2="430.9" y2="380.1" stroke="#000" stroke-width="1.5"/>
<line x1="449.1" y1="460.7" x2="462.1" y2="454.5" stroke="#000" stroke-width="1.5"/>
<ellipse cx="433.5" cy="423.5" rx="30.7" ry="40.4" transform="rotate(-19 433.5 423.5)" fill="#fff" stroke="#000" stroke-width="1.5" />
<ellipse cx="433.5" cy="423.5" rx="26.4" ry="34.7" transform="rotate(-19 433.5 423.5)" fill="none" stroke="#000" stroke-width="1.2000000000000002" />
<ellipse cx="433.5" cy="423.5" rx="19" ry="25" transform="rotate(-19 433.5 423.5)" fill="none" stroke="#000" stroke-width="1.2000000000000002" />
<ellipse cx="434.5" cy="423" rx="15.3" ry="20.2" transform="rotate(-19 434.5 423)" fill="none" stroke="#000" stroke-width="1.5" />
<ellipse cx="438.1" cy="421.3" rx="12.9" ry="18.6" transform="rotate(-19 438.1 421.3)" fill="none" stroke="#000" stroke-width="1.2000000000000002" stroke-dasharray="48.5 64.6"/>
<ellipse cx="456.5" cy="421.9" rx="2.9" ry="4" transform="rotate(-19 456.5 421.9)" fill="none" stroke="#000" stroke-width="1.125" />
<ellipse cx="455.7" cy="437.9" rx="2.9" ry="4" transform="rotate(-19 455.7 437.9)" fill="none" stroke="#000" stroke-width="1.125" />
<ellipse cx="447.8" cy="449.4" rx="2.9" ry="4" transform="rotate(-19 447.8 449.4)" fill="none" stroke="#000" stroke-width="1.125" />
<ellipse cx="435.4" cy="452.6" rx="2.9" ry="4" transform="rotate(-19 435.4 452.6)" fill="none" stroke="#000" stroke-width="1.125" />
<ellipse cx="422.4" cy="446.6" rx="2.9" ry="4" transform="rotate(-19 422.4 446.6)" fill="none" stroke="#000" stroke-width="1.125" />
<ellipse cx="412.9" cy="433.3" rx="2.9" ry="4" transform="rotate(-19 412.9 433.3)" fill="none" stroke="#000" stroke-width="1.125" />
<ellipse cx="410" cy="416.8" rx="2.9" ry="4" transform="rotate(-19 410 416.8)" fill="none" stroke="#000" stroke-width="1.125" />
<ellipse cx="414.5" cy="402.5" rx="2.9" ry="4" transform="rotate(-19 414.5 402.5)" fill="none" stroke="#000" stroke-width="1.125" />
<ellipse cx="425" cy="394.9" rx="2.9" ry="4" transform="rotate(-19 425 394.9)" fill="none" stroke="#000" stroke-width="1.125" />
<ellipse cx="438.3" cy="396.3" rx="2.9" ry="4" transform="rotate(-19 438.3 396.3)" fill="none" stroke="#000" stroke-width="1.125" />
<ellipse cx="450" cy="406.4" rx="2.9" ry="4" transform="rotate(-19 450 406.4)" fill="none" stroke="#000" stroke-width="1.125" />
<line x1="436.5" y1="422.7" x2="372" y2="460.5" stroke="#000" stroke-width="1.35"/>
<ellipse cx="657" cy="422.5" rx="18.5" ry="27" transform="rotate(-18 657 422.5)" fill="#fff" stroke="#000" stroke-width="1.5" />
<path d="M633.6 403.2 L647.6 397.2 L666.4 447.8 L652.4 453.8 Z" fill="#fff" stroke="none" stroke-width="0" stroke-linejoin="round" stroke-linecap="round" />
<line x1="633.6" y1="403.2" x2="647.6" y2="397.2" stroke="#000" stroke-width="1.5"/>
<line x1="652.4" y1="453.8" x2="666.4" y2="447.8" stroke="#000" stroke-width="1.5"/>
<ellipse cx="643" cy="428.5" rx="18.5" ry="27" transform="rotate(-18 643 428.5)" fill="#fff" stroke="#000" stroke-width="1.5" />
<ellipse cx="643" cy="428.5" rx="15.9" ry="23.2" transform="rotate(-18 643 428.5)" fill="none" stroke="#000" stroke-width="1.2000000000000002" />
<ellipse cx="643" cy="428.5" rx="11.5" ry="16.7" transform="rotate(-18 643 428.5)" fill="none" stroke="#000" stroke-width="1.2000000000000002" />
<ellipse cx="644.1" cy="428" rx="9.2" ry="13.5" transform="rotate(-18 644.1 428)" fill="none" stroke="#000" stroke-width="1.5" />
<ellipse cx="647.9" cy="426.4" rx="7.8" ry="12.4" transform="rotate(-18 647.9 426.4)" fill="none" stroke="#000" stroke-width="1.2000000000000002" stroke-dasharray="32.4 43.2"/>
<ellipse cx="657" cy="428.1" rx="1.8" ry="2.7" transform="rotate(-18 657 428.1)" fill="none" stroke="#000" stroke-width="1.125" />
<ellipse cx="656.4" cy="439.6" rx="1.8" ry="2.7" transform="rotate(-18 656.4 439.6)" fill="none" stroke="#000" stroke-width="1.125" />
<ellipse cx="650.6" cy="446.9" rx="1.8" ry="2.7" transform="rotate(-18 650.6 446.9)" fill="none" stroke="#000" stroke-width="1.125" />
<ellipse cx="642" cy="447.1" rx="1.8" ry="2.7" transform="rotate(-18 642 447.1)" fill="none" stroke="#000" stroke-width="1.125" />
<ellipse cx="633.7" cy="440.2" rx="1.8" ry="2.7" transform="rotate(-18 633.7 440.2)" fill="none" stroke="#000" stroke-width="1.125" />
<ellipse cx="629" cy="428.9" rx="1.8" ry="2.7" transform="rotate(-18 629 428.9)" fill="none" stroke="#000" stroke-width="1.125" />
<ellipse cx="629.6" cy="417.4" rx="1.8" ry="2.7" transform="rotate(-18 629.6 417.4)" fill="none" stroke="#000" stroke-width="1.125" />
<ellipse cx="635.4" cy="410.1" rx="1.8" ry="2.7" transform="rotate(-18 635.4 410.1)" fill="none" stroke="#000" stroke-width="1.125" />
<ellipse cx="644" cy="409.9" rx="1.8" ry="2.7" transform="rotate(-18 644 409.9)" fill="none" stroke="#000" stroke-width="1.125" />
<ellipse cx="652.3" cy="416.8" rx="1.8" ry="2.7" transform="rotate(-18 652.3 416.8)" fill="none" stroke="#000" stroke-width="1.125" />
<line x1="646" y1="426.5" x2="633" y2="434" stroke="#000" stroke-width="1.35"/>
<ellipse cx="507" cy="507.5" rx="16.5" ry="26" transform="rotate(-17 507 507.5)" fill="#fff" stroke="#000" stroke-width="1.5" />
<path d="M482.6 489.4 L498.6 482.9 L515.4 532.1 L499.4 538.6 Z" fill="#fff" stroke="none" stroke-width="0" stroke-linejoin="round" stroke-linecap="round" />
<line x1="482.6" y1="489.4" x2="498.6" y2="482.9" stroke="#000" stroke-width="1.5"/>
<line x1="499.4" y1="538.6" x2="515.4" y2="532.1" stroke="#000" stroke-width="1.5"/>
<ellipse cx="491" cy="514" rx="16.5" ry="26" transform="rotate(-17 491 514)" fill="#fff" stroke="#000" stroke-width="1.5" />
<ellipse cx="491" cy="514" rx="14.2" ry="22.4" transform="rotate(-17 491 514)" fill="none" stroke="#000" stroke-width="1.2000000000000002" />
<ellipse cx="491" cy="514" rx="10.2" ry="16.1" transform="rotate(-17 491 514)" fill="none" stroke="#000" stroke-width="1.2000000000000002" />
<ellipse cx="492.3" cy="513.5" rx="8.2" ry="13" transform="rotate(-17 492.3 513.5)" fill="none" stroke="#000" stroke-width="1.5" />
<ellipse cx="496.6" cy="511.7" rx="6.9" ry="12" transform="rotate(-17 496.6 511.7)" fill="none" stroke="#000" stroke-width="1.2000000000000002" stroke-dasharray="31.2 41.6"/>
<ellipse cx="503.6" cy="514.2" rx="1.6" ry="2.6" transform="rotate(-17 503.6 514.2)" fill="none" stroke="#000" stroke-width="1.125" />
<ellipse cx="503" cy="525.1" rx="1.6" ry="2.6" transform="rotate(-17 503 525.1)" fill="none" stroke="#000" stroke-width="1.125" />
<ellipse cx="497.9" cy="531.9" rx="1.6" ry="2.6" transform="rotate(-17 497.9 531.9)" fill="none" stroke="#000" stroke-width="1.125" />
<ellipse cx="490.2" cy="531.8" rx="1.6" ry="2.6" transform="rotate(-17 490.2 531.8)" fill="none" stroke="#000" stroke-width="1.125" />
<ellipse cx="482.7" cy="524.9" rx="1.6" ry="2.6" transform="rotate(-17 482.7 524.9)" fill="none" stroke="#000" stroke-width="1.125" />
<ellipse cx="478.4" cy="513.8" rx="1.6" ry="2.6" transform="rotate(-17 478.4 513.8)" fill="none" stroke="#000" stroke-width="1.125" />
<ellipse cx="479" cy="502.9" rx="1.6" ry="2.6" transform="rotate(-17 479 502.9)" fill="none" stroke="#000" stroke-width="1.125" />
<ellipse cx="484.1" cy="496.1" rx="1.6" ry="2.6" transform="rotate(-17 484.1 496.1)" fill="none" stroke="#000" stroke-width="1.125" />
<ellipse cx="491.8" cy="496.2" rx="1.6" ry="2.6" transform="rotate(-17 491.8 496.2)" fill="none" stroke="#000" stroke-width="1.125" />
<ellipse cx="499.3" cy="503.1" rx="1.6" ry="2.6" transform="rotate(-17 499.3 503.1)" fill="none" stroke="#000" stroke-width="1.125" />
<line x1="493.5" y1="512.5" x2="459" y2="532" stroke="#000" stroke-width="1.35"/>
<ellipse cx="531" cy="594.8" rx="14" ry="21.3" transform="rotate(-17 531 594.8)" fill="#fff" stroke="#000" stroke-width="1.5" />
<path d="M514.7 577.7 L524.7 574.5 L537.3 615.1 L527.3 618.3 Z" fill="#fff" stroke="none" stroke-width="0" stroke-linejoin="round" stroke-linecap="round" />
<line x1="514.7" y1="577.7" x2="524.7" y2="574.5" stroke="#000" stroke-width="1.5"/>
<line x1="527.3" y1="618.3" x2="537.3" y2="615.1" stroke="#000" stroke-width="1.5"/>
<ellipse cx="521" cy="598" rx="14" ry="21.3" transform="rotate(-17 521 598)" fill="#fff" stroke="#000" stroke-width="1.5" />
<ellipse cx="521" cy="598" rx="12" ry="18.3" transform="rotate(-17 521 598)" fill="none" stroke="#000" stroke-width="1.2000000000000002" />
<ellipse cx="521" cy="598" rx="8.7" ry="13.2" transform="rotate(-17 521 598)" fill="none" stroke="#000" stroke-width="1.2000000000000002" />
<ellipse cx="521.8" cy="597.7" rx="7" ry="10.7" transform="rotate(-17 521.8 597.7)" fill="none" stroke="#000" stroke-width="1.5" />
<ellipse cx="524.5" cy="596.9" rx="5.9" ry="9.8" transform="rotate(-17 524.5 596.9)" fill="none" stroke="#000" stroke-width="1.2000000000000002" stroke-dasharray="25.6 34.1"/>
<ellipse cx="531.6" cy="598" rx="1.3" ry="2.1" transform="rotate(-17 531.6 598)" fill="none" stroke="#000" stroke-width="1.125" />
<ellipse cx="530.8" cy="607.9" rx="1.3" ry="2.1" transform="rotate(-17 530.8 607.9)" fill="none" stroke="#000" stroke-width="1.125" />
<ellipse cx="525.4" cy="613.1" rx="1.3" ry="2.1" transform="rotate(-17 525.4 613.1)" fill="none" stroke="#000" stroke-width="1.125" />
<ellipse cx="517.9" cy="611.3" rx="1.3" ry="2.1" transform="rotate(-17 517.9 611.3)" fill="none" stroke="#000" stroke-width="1.125" />
<ellipse cx="511.9" cy="603.2" rx="1.3" ry="2.1" transform="rotate(-17 511.9 603.2)" fill="none" stroke="#000" stroke-width="1.125" />
<ellipse cx="510.1" cy="592.7" rx="1.3" ry="2.1" transform="rotate(-17 510.1 592.7)" fill="none" stroke="#000" stroke-width="1.125" />
<ellipse cx="513.5" cy="584.7" rx="1.3" ry="2.1" transform="rotate(-17 513.5 584.7)" fill="none" stroke="#000" stroke-width="1.125" />
<ellipse cx="520.3" cy="582.9" rx="1.3" ry="2.1" transform="rotate(-17 520.3 582.9)" fill="none" stroke="#000" stroke-width="1.125" />
<ellipse cx="527.5" cy="588.1" rx="1.3" ry="2.1" transform="rotate(-17 527.5 588.1)" fill="none" stroke="#000" stroke-width="1.125" />
<ellipse cx="112.5" cy="642.5" rx="10.8" ry="15.2" transform="rotate(-24 112.5 642.5)" fill="none" stroke="#000" stroke-width="4" />
<ellipse cx="284.5" cy="736.5" rx="13" ry="16.8" transform="rotate(-20 284.5 736.5)" fill="#fff" stroke="#000" stroke-width="1.9" />
<path d="M271.7 724.2 L277.7 721.2 L291.3 751.8 L285.3 754.8 Z" fill="#fff" stroke="none" stroke-width="0" stroke-linejoin="round" stroke-linecap="round" />
<line x1="271.7" y1="724.2" x2="277.7" y2="721.2" stroke="#000" stroke-width="1.9"/>
<line x1="285.3" y1="754.8" x2="291.3" y2="751.8" stroke="#000" stroke-width="1.9"/>
<ellipse cx="282.1" cy="737.7" rx="13" ry="16.8" transform="rotate(-20 282.1 737.7)" fill="none" stroke="#000" stroke-width="1.9" />
<ellipse cx="278.5" cy="739.5" rx="13" ry="16.8" transform="rotate(-20 278.5 739.5)" fill="#fff" stroke="#000" stroke-width="1.9" />
<ellipse cx="279.4" cy="739" rx="11.2" ry="14.8" transform="rotate(-20 279.4 739)" fill="none" stroke="#000" stroke-width="1.52" />
<ellipse cx="280.3" cy="738.6" rx="9.4" ry="12.8" transform="rotate(-20 280.3 738.6)" fill="none" stroke="#000" stroke-width="1.9" />
<ellipse cx="281.2" cy="738.1" rx="7.8" ry="11.1" transform="rotate(-20 281.2 738.1)" fill="none" stroke="#000" stroke-width="1.52" />
<ellipse cx="282.1" cy="737.7" rx="6.8" ry="9.7" transform="rotate(-20 282.1 737.7)" fill="none" stroke="#000" stroke-width="1.71" stroke-dasharray="31.9 25.2"/>
<ellipse cx="203" cy="743.3" rx="25.5" ry="43" transform="rotate(-20 203 743.3)" fill="#fff" stroke="#000" stroke-width="1.5" />
<path d="M181.3 706 L187.3 703.3 L218.7 783.3 L212.7 786 Z" fill="#fff" stroke="none" stroke-width="0" stroke-linejoin="round" stroke-linecap="round" />
<line x1="181.3" y1="706" x2="187.3" y2="703.3" stroke="#000" stroke-width="1.5"/>
<line x1="212.7" y1="786" x2="218.7" y2="783.3" stroke="#000" stroke-width="1.5"/>
<ellipse cx="197" cy="746" rx="25.5" ry="43" transform="rotate(-20 197 746)" fill="#fff" stroke="#000" stroke-width="1.5" />
<ellipse cx="190" cy="749" rx="24" ry="39.5" transform="rotate(-20 190 749)" fill="#fff" stroke="#000" stroke-width="1.5" />
<path d="M161.7 718.2 L175.7 712.2 L204.3 785.8 L190.3 791.8 Z" fill="#fff" stroke="none" stroke-width="0" stroke-linejoin="round" stroke-linecap="round" />
<line x1="161.7" y1="718.2" x2="175.7" y2="712.2" stroke="#000" stroke-width="1.5"/>
<line x1="190.3" y1="791.8" x2="204.3" y2="785.8" stroke="#000" stroke-width="1.5"/>
<ellipse cx="179.5" cy="753.5" rx="24" ry="39.5" transform="rotate(-20 179.5 753.5)" fill="none" stroke="#000" stroke-width="1.5" />
<ellipse cx="182.3" cy="752.3" rx="24" ry="39.5" transform="rotate(-20 182.3 752.3)" fill="none" stroke="#000" stroke-width="1.5" />
<ellipse cx="184.7" cy="751.3" rx="24" ry="39.5" transform="rotate(-20 184.7 751.3)" fill="none" stroke="#000" stroke-width="1.5" />
<ellipse cx="187.2" cy="750.2" rx="24" ry="39.5" transform="rotate(-20 187.2 750.2)" fill="none" stroke="#000" stroke-width="1.5" />
<ellipse cx="176" cy="755" rx="24" ry="39.5" transform="rotate(-20 176 755)" fill="#fff" stroke="#000" stroke-width="1.5" />
<ellipse cx="165" cy="760" rx="25" ry="32.8" transform="rotate(-20 165 760)" fill="#fff" stroke="#000" stroke-width="1.5" />
<path d="M145.8 732.6 L152.8 729.6 L177.2 790.4 L170.2 793.4 Z" fill="#fff" stroke="none" stroke-width="0" stroke-linejoin="round" stroke-linecap="round" />
<line x1="145.8" y1="732.6" x2="152.8" y2="729.6" stroke="#000" stroke-width="1.5"/>
<line x1="170.2" y1="793.4" x2="177.2" y2="790.4" stroke="#000" stroke-width="1.5"/>
<ellipse cx="158" cy="763" rx="25" ry="32.8" transform="rotate(-20 158 763)" fill="#fff" stroke="#000" stroke-width="1.5" />
<ellipse cx="157.3" cy="762.8" rx="14.2" ry="18.5" transform="rotate(-20 157.3 762.8)" fill="none" stroke="#000" stroke-width="1.5" />
<ellipse cx="157.5" cy="762.8" rx="11.5" ry="15" transform="rotate(-20 157.5 762.8)" fill="none" stroke="#000" stroke-width="1.5" />
<ellipse cx="158" cy="762.6" rx="6.6" ry="9" transform="rotate(-20 158 762.6)" fill="none" stroke="#000" stroke-width="1.5" />
<ellipse cx="172" cy="830" rx="12" ry="14.8" transform="rotate(-20 172 830)" fill="#fff" stroke="#000" stroke-width="1.9500000000000002" />
<path d="M164.1 817.2 L166.6 816.2 L177.4 843.8 L174.9 844.8 Z" fill="#fff" stroke="none" stroke-width="0" stroke-linejoin="round" stroke-linecap="round" />
<line x1="164.1" y1="817.2" x2="166.6" y2="816.2" stroke="#000" stroke-width="1.9500000000000002"/>
<line x1="174.9" y1="844.8" x2="177.4" y2="843.8" stroke="#000" stroke-width="1.9500000000000002"/>
<ellipse cx="169.5" cy="831" rx="12" ry="14.8" transform="rotate(-20 169.5 831)" fill="#fff" stroke="#000" stroke-width="1.9500000000000002" />
<ellipse cx="171" cy="831.5" rx="7.4" ry="9.4" transform="rotate(-20 171 831.5)" fill="none" stroke="#000" stroke-width="1.7999999999999998" />
<path d="M166.5 825 A7.4 9.4 -20 0 0 170.5 840.5" fill="none" stroke="#000" stroke-width="1.5" stroke-linejoin="round" stroke-linecap="round" />
<path d="M131.3 843 L143.3 838.2 A4.5 10 158.2 0 1 150.7 856.8 L138.7 861.6 Z" fill="#fff" stroke="#000" stroke-width="1.6500000000000001" stroke-linejoin="round" stroke-linecap="round" />
<path d="M140.1 839.5 A4.5 10 158.2 0 1 147.6 858" fill="none" stroke="#000" stroke-width="1.3200000000000003" stroke-linejoin="round" stroke-linecap="round" />
<path d="M137 840.7 A4.5 10 158.2 0 1 144.4 859.3" fill="none" stroke="#000" stroke-width="1.3200000000000003" stroke-linejoin="round" stroke-linecap="round" />
<ellipse cx="135" cy="852.3" rx="6.3" ry="14" transform="rotate(158.2 135 852.3)" fill="#fff" stroke="#000" stroke-width="1.6500000000000001" />
<path d="M127 840.4 L129.8 839.3 L140.2 865.3 L137.4 866.4 Z" fill="#fff" stroke="none" stroke-width="0" stroke-linejoin="round" stroke-linecap="round" />
<line x1="127" y1="840.4" x2="129.8" y2="839.3" stroke="#000" stroke-width="1.6500000000000001"/>
<line x1="137.4" y1="866.4" x2="140.2" y2="865.3" stroke="#000" stroke-width="1.6500000000000001"/>
<ellipse cx="132.2" cy="853.4" rx="6.3" ry="14" transform="rotate(158.2 132.2 853.4)" fill="#fff" stroke="#000" stroke-width="1.6500000000000001" />
<path d="M127.6 867.3 L136.4 863.8 A5 11.2 -21.8 0 0 128.1 843 L119.2 846.5 Z" fill="#fff" stroke="#000" stroke-width="1.6500000000000001" stroke-linejoin="round" stroke-linecap="round" />
<ellipse cx="123.4" cy="856.9" rx="5" ry="11.2" transform="rotate(-21.8 123.4 856.9)" fill="#fff" stroke="#000" stroke-width="1.6500000000000001" />
<path d="M117.3 853.4 L119.2 846.5 L125.4 850.1 L129.5 860.5 L127.6 867.3 L121.4 863.8 Z" fill="#fff" stroke="#000" stroke-width="1.6500000000000001" stroke-linejoin="round" stroke-linecap="round" />
<line x1="125.3" y1="850.2" x2="134.1" y2="846.6" stroke="#000" stroke-width="1.3200000000000003"/>
<line x1="129.5" y1="860.6" x2="138.3" y2="857" stroke="#000" stroke-width="1.3200000000000003"/>
<path d="M252.6 828 L329.1 787 A1.8 4 151.8 0 1 332.9 794 L256.4 835 Z" fill="#fff" stroke="#000" stroke-width="1.5" stroke-linejoin="round" stroke-linecap="round" />
<path d="M325.9 788.7 A1.8 4 151.8 0 1 329.7 795.7" fill="none" stroke="#000" stroke-width="1.2000000000000002" stroke-linejoin="round" stroke-linecap="round" />
<path d="M322.8 790.4 A1.8 4 151.8 0 1 326.5 797.4" fill="none" stroke="#000" stroke-width="1.2000000000000002" stroke-linejoin="round" stroke-linecap="round" />
<path d="M319.6 792.1 A1.8 4 151.8 0 1 323.4 799.1" fill="none" stroke="#000" stroke-width="1.2000000000000002" stroke-linejoin="round" stroke-linecap="round" />
<path d="M316.4 793.8 A1.8 4 151.8 0 1 320.2 800.8" fill="none" stroke="#000" stroke-width="1.2000000000000002" stroke-linejoin="round" stroke-linecap="round" />
<path d="M313.2 795.5 A1.8 4 151.8 0 1 317 802.5" fill="none" stroke="#000" stroke-width="1.2000000000000002" stroke-linejoin="round" stroke-linecap="round" />
<path d="M310.1 797.2 A1.8 4 151.8 0 1 313.9 804.2" fill="none" stroke="#000" stroke-width="1.2000000000000002" stroke-linejoin="round" stroke-linecap="round" />
<path d="M306.9 798.9 A1.8 4 151.8 0 1 310.7 805.9" fill="none" stroke="#000" stroke-width="1.2000000000000002" stroke-linejoin="round" stroke-linecap="round" />
<path d="M303.7 800.6 A1.8 4 151.8 0 1 307.5 807.6" fill="none" stroke="#000" stroke-width="1.2000000000000002" stroke-linejoin="round" stroke-linecap="round" />
<ellipse cx="254.5" cy="831.5" rx="4" ry="9" transform="rotate(151.8 254.5 831.5)" fill="#fff" stroke="#000" stroke-width="1.5" />
<path d="M248 824.7 L250.2 823.6 L258.8 839.4 L256.5 840.6 Z" fill="#fff" stroke="none" stroke-width="0" stroke-linejoin="round" stroke-linecap="round" />
<line x1="248" y1="824.7" x2="250.2" y2="823.6" stroke="#000" stroke-width="1.5"/>
<line x1="256.5" y1="840.6" x2="258.8" y2="839.4" stroke="#000" stroke-width="1.5"/>
<ellipse cx="252.3" cy="832.7" rx="4" ry="9" transform="rotate(151.8 252.3 832.7)" fill="#fff" stroke="#000" stroke-width="1.5" />
<path d="M248.2 843 L255.7 839 A3.2 7.2 -28.2 0 0 248.9 826.3 L241.4 830.4 Z" fill="#fff" stroke="#000" stroke-width="1.5" stroke-linejoin="round" stroke-linecap="round" />
<ellipse cx="244.8" cy="836.7" rx="3.2" ry="7.2" transform="rotate(-28.2 244.8 836.7)" fill="#fff" stroke="#000" stroke-width="1.5" />
<path d="M240.6 834.8 L241.4 830.4 L245.6 832.2 L249 838.5 L248.2 843 L244 841.2 Z" fill="#fff" stroke="#000" stroke-width="1.5" stroke-linejoin="round" stroke-linecap="round" />
<line x1="245.5" y1="832.2" x2="253" y2="828.2" stroke="#000" stroke-width="1.2000000000000002"/>
<line x1="248.9" y1="838.6" x2="256.4" y2="834.6" stroke="#000" stroke-width="1.2000000000000002"/>
</svg></body></html>
